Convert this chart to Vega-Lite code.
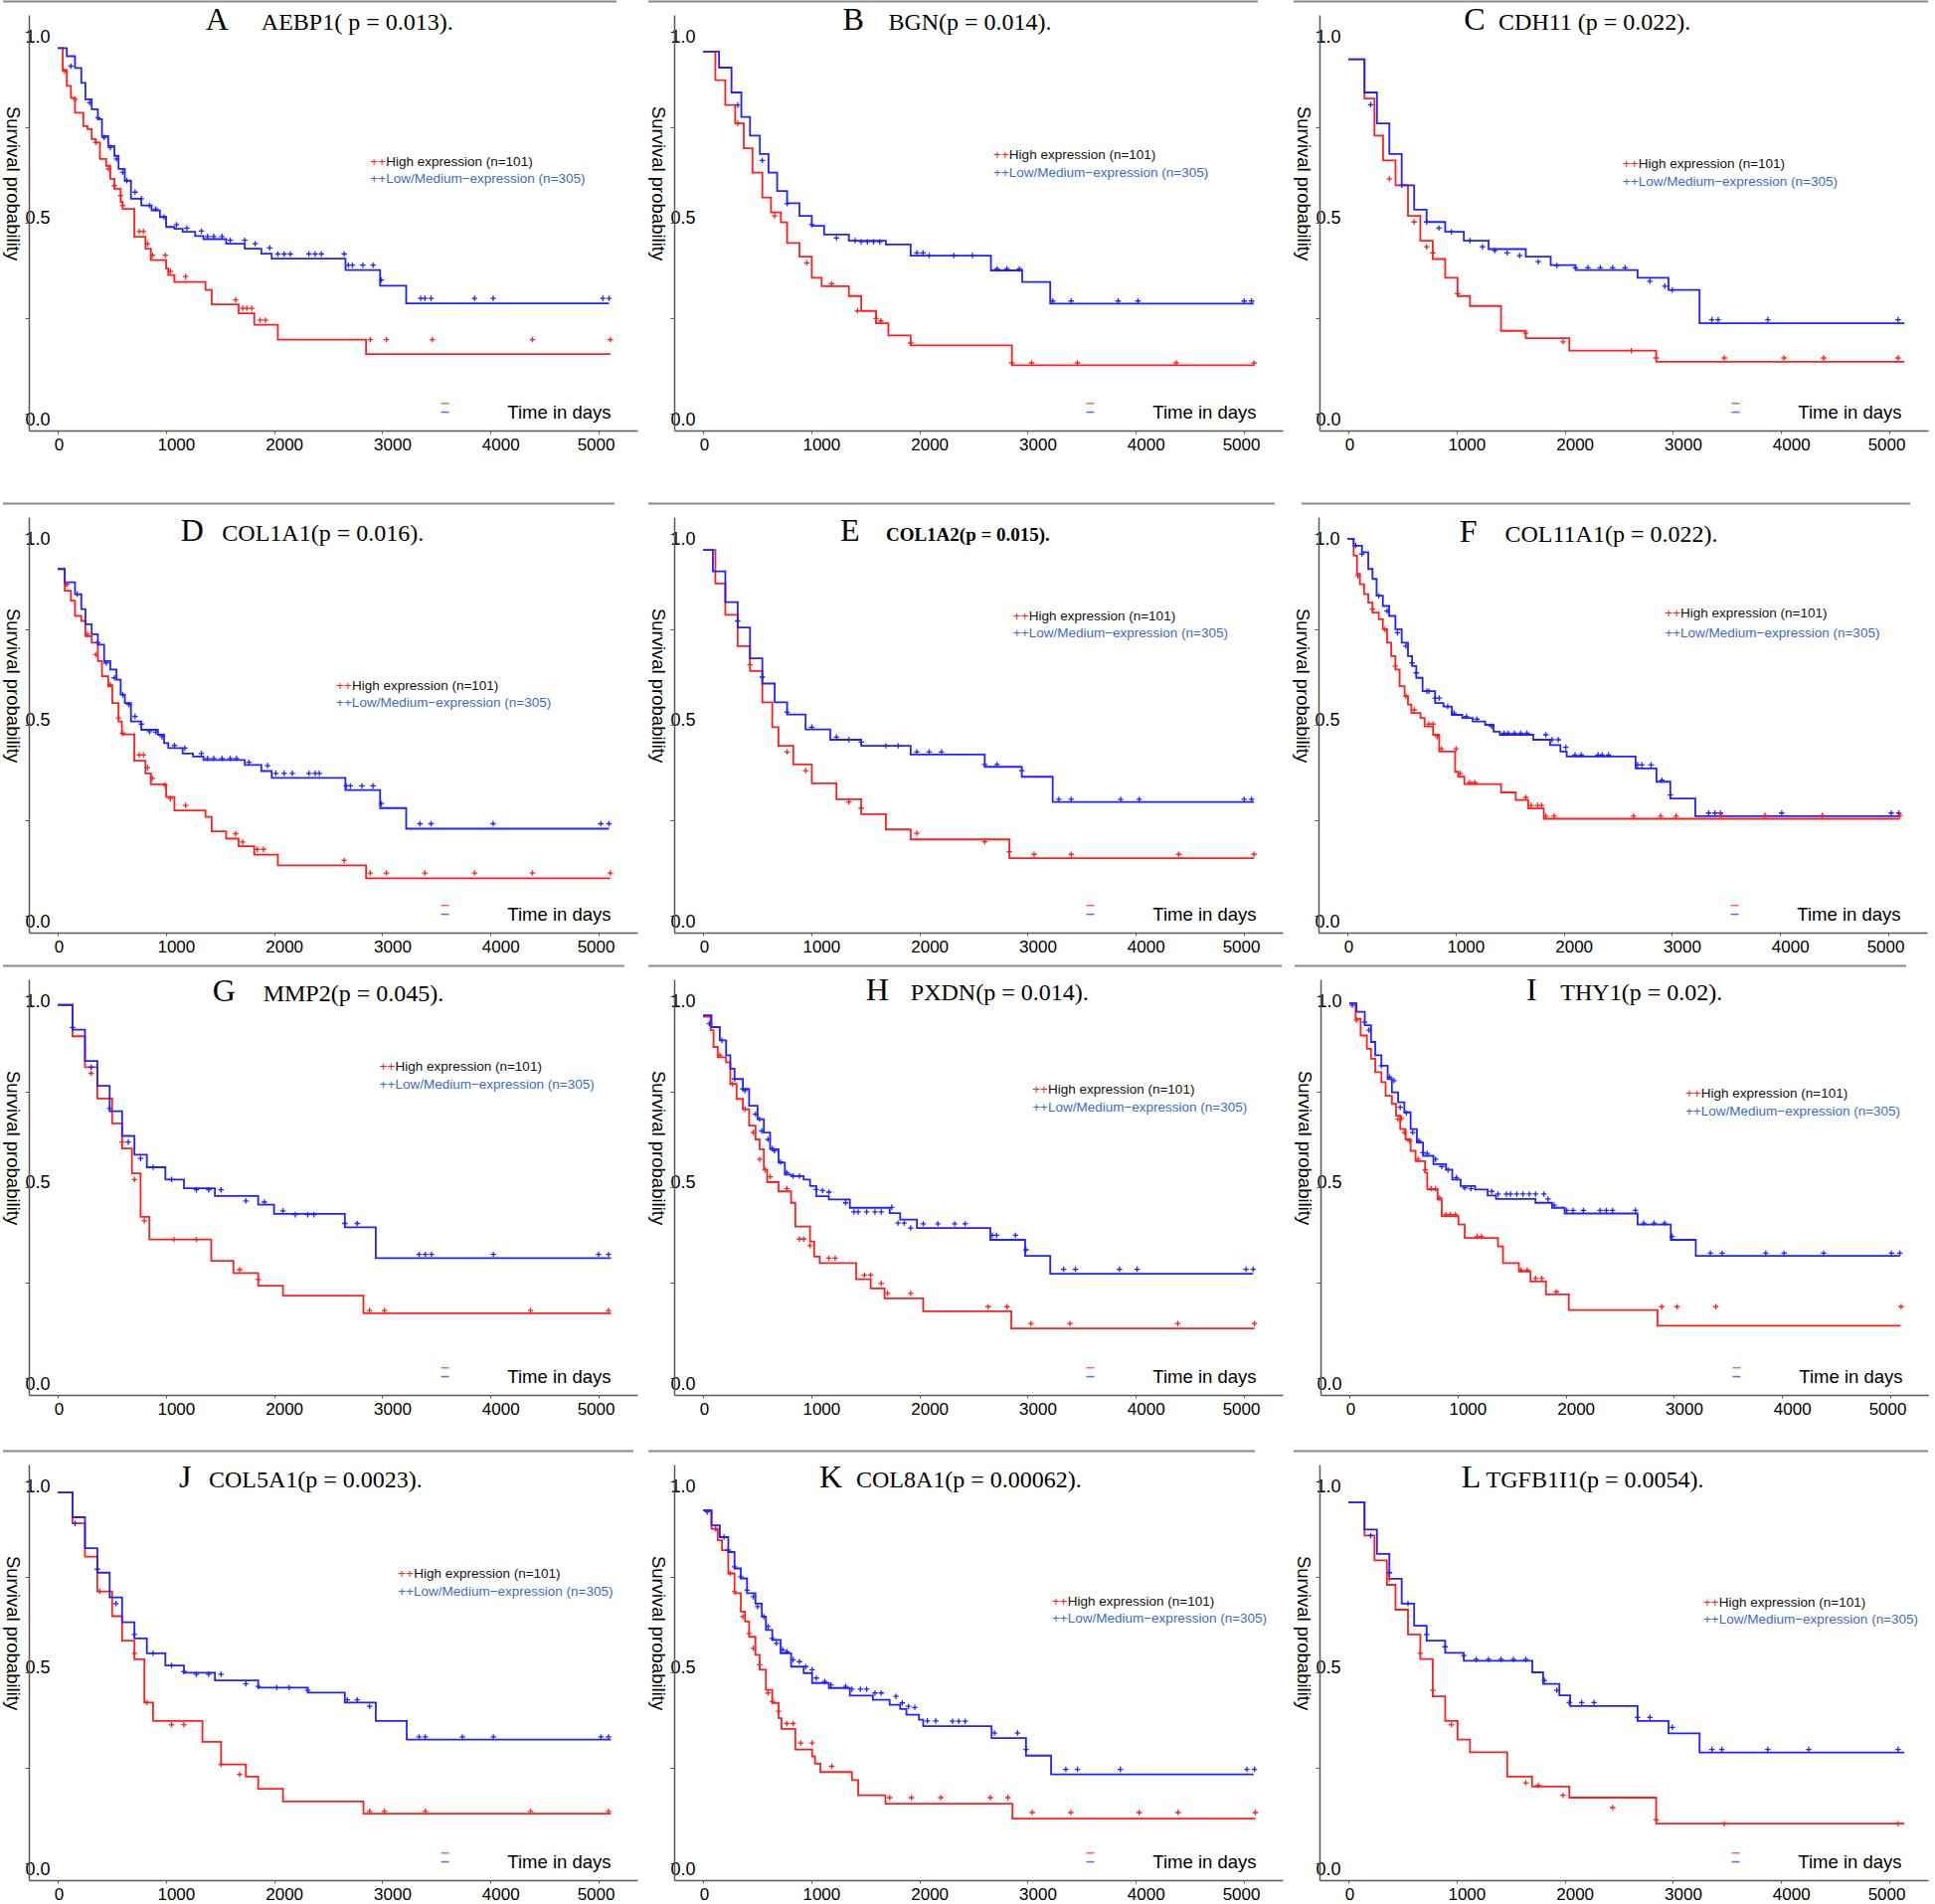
{
"$schema":"https://vega.github.io/schema/vega-lite/v6.json",
"background":"white",
"padding":{"left":1,"top":0,"right":0,"bottom":0},
"datasets":{
"c":[
{"p":"A","g":"H","t":0,"s":0.957},{"p":"A","g":"H","t":46,"s":0.9},{"p":"A","g":"H","t":84,"s":0.858},{"p":"A","g":"H","t":122,"s":0.827},{"p":"A","g":"H","t":160,"s":0.788},{"p":"A","g":"H","t":237,"s":0.753},{"p":"A","g":"H","t":275,"s":0.745},{"p":"A","g":"H","t":314,"s":0.719},{"p":"A","g":"H","t":352,"s":0.71},{"p":"A","g":"H","t":390,"s":0.667},{"p":"A","g":"H","t":448,"s":0.649},{"p":"A","g":"H","t":486,"s":0.615},{"p":"A","g":"H","t":524,"s":0.589},{"p":"A","g":"H","t":582,"s":0.554},{"p":"A","g":"H","t":601,"s":0.536},{"p":"A","g":"H","t":708,"s":0.463},{"p":"A","g":"H","t":811,"s":0.432},{"p":"A","g":"H","t":861,"s":0.402},{"p":"A","g":"H","t":1002,"s":0.38},{"p":"A","g":"H","t":1022,"s":0.363},{"p":"A","g":"H","t":1079,"s":0.345},{"p":"A","g":"H","t":1366,"s":0.324},{"p":"A","g":"H","t":1423,"s":0.286},{"p":"A","g":"H","t":1672,"s":0.263},{"p":"A","g":"H","t":1817,"s":0.233},{"p":"A","g":"H","t":2035,"s":0.194},{"p":"A","g":"H","t":2850,"s":0.156},{"p":"A","g":"H","t":5108,"s":0.156},
{"p":"A","g":"L","t":0,"s":0.957},{"p":"A","g":"L","t":84,"s":0.936},{"p":"A","g":"L","t":160,"s":0.905},{"p":"A","g":"L","t":218,"s":0.866},{"p":"A","g":"L","t":256,"s":0.823},{"p":"A","g":"L","t":314,"s":0.797},{"p":"A","g":"L","t":371,"s":0.771},{"p":"A","g":"L","t":409,"s":0.727},{"p":"A","g":"L","t":467,"s":0.701},{"p":"A","g":"L","t":524,"s":0.675},{"p":"A","g":"L","t":562,"s":0.641},{"p":"A","g":"L","t":620,"s":0.61},{"p":"A","g":"L","t":677,"s":0.563},{"p":"A","g":"L","t":773,"s":0.545},{"p":"A","g":"L","t":868,"s":0.532},{"p":"A","g":"L","t":945,"s":0.515},{"p":"A","g":"L","t":1002,"s":0.489},{"p":"A","g":"L","t":1079,"s":0.484},{"p":"A","g":"L","t":1155,"s":0.476},{"p":"A","g":"L","t":1270,"s":0.465},{"p":"A","g":"L","t":1347,"s":0.457},{"p":"A","g":"L","t":1557,"s":0.445},{"p":"A","g":"L","t":1729,"s":0.432},{"p":"A","g":"L","t":1882,"s":0.419},{"p":"A","g":"L","t":1978,"s":0.406},{"p":"A","g":"L","t":2660,"s":0.376},{"p":"A","g":"L","t":2980,"s":0.335},{"p":"A","g":"L","t":3221,"s":0.289},{"p":"A","g":"L","t":5096,"s":0.289},
{"p":"B","g":"H","t":0,"s":0.948},{"p":"B","g":"H","t":114,"s":0.873},{"p":"B","g":"H","t":206,"s":0.808},{"p":"B","g":"H","t":297,"s":0.76},{"p":"B","g":"H","t":377,"s":0.695},{"p":"B","g":"H","t":457,"s":0.631},{"p":"B","g":"H","t":548,"s":0.566},{"p":"B","g":"H","t":628,"s":0.527},{"p":"B","g":"H","t":719,"s":0.501},{"p":"B","g":"H","t":777,"s":0.447},{"p":"B","g":"H","t":891,"s":0.411},{"p":"B","g":"H","t":1005,"s":0.356},{"p":"B","g":"H","t":1096,"s":0.334},{"p":"B","g":"H","t":1348,"s":0.308},{"p":"B","g":"H","t":1462,"s":0.269},{"p":"B","g":"H","t":1599,"s":0.237},{"p":"B","g":"H","t":1713,"s":0.205},{"p":"B","g":"H","t":1919,"s":0.179},{"p":"B","g":"H","t":2855,"s":0.127},{"p":"B","g":"H","t":5093,"s":0.127},
{"p":"B","g":"L","t":0,"s":0.948},{"p":"B","g":"L","t":148,"s":0.906},{"p":"B","g":"L","t":263,"s":0.841},{"p":"B","g":"L","t":354,"s":0.777},{"p":"B","g":"L","t":434,"s":0.728},{"p":"B","g":"L","t":525,"s":0.68},{"p":"B","g":"L","t":605,"s":0.631},{"p":"B","g":"L","t":685,"s":0.583},{"p":"B","g":"L","t":777,"s":0.551},{"p":"B","g":"L","t":891,"s":0.518},{"p":"B","g":"L","t":1005,"s":0.492},{"p":"B","g":"L","t":1119,"s":0.469},{"p":"B","g":"L","t":1348,"s":0.453},{"p":"B","g":"L","t":1690,"s":0.443},{"p":"B","g":"L","t":1919,"s":0.414},{"p":"B","g":"L","t":2661,"s":0.375},{"p":"B","g":"L","t":2950,"s":0.345},{"p":"B","g":"L","t":3209,"s":0.288},{"p":"B","g":"L","t":5093,"s":0.288},
{"p":"C","g":"H","t":0,"s":0.928},{"p":"C","g":"H","t":149,"s":0.825},{"p":"C","g":"H","t":241,"s":0.728},{"p":"C","g":"H","t":321,"s":0.663},{"p":"C","g":"H","t":436,"s":0.598},{"p":"C","g":"H","t":551,"s":0.518},{"p":"C","g":"H","t":665,"s":0.453},{"p":"C","g":"H","t":780,"s":0.405},{"p":"C","g":"H","t":895,"s":0.356},{"p":"C","g":"H","t":1009,"s":0.308},{"p":"C","g":"H","t":1124,"s":0.282},{"p":"C","g":"H","t":1411,"s":0.217},{"p":"C","g":"H","t":1640,"s":0.198},{"p":"C","g":"H","t":2042,"s":0.165},{"p":"C","g":"H","t":2845,"s":0.136},{"p":"C","g":"H","t":5139,"s":0.136},
{"p":"C","g":"L","t":0,"s":0.928},{"p":"C","g":"L","t":149,"s":0.841},{"p":"C","g":"L","t":264,"s":0.76},{"p":"C","g":"L","t":379,"s":0.68},{"p":"C","g":"L","t":493,"s":0.598},{"p":"C","g":"L","t":608,"s":0.534},{"p":"C","g":"L","t":723,"s":0.502},{"p":"C","g":"L","t":895,"s":0.476},{"p":"C","g":"L","t":1067,"s":0.453},{"p":"C","g":"L","t":1296,"s":0.431},{"p":"C","g":"L","t":1640,"s":0.411},{"p":"C","g":"L","t":1870,"s":0.389},{"p":"C","g":"L","t":2099,"s":0.376},{"p":"C","g":"L","t":2673,"s":0.356},{"p":"C","g":"L","t":2959,"s":0.324},{"p":"C","g":"L","t":3246,"s":0.237},{"p":"C","g":"L","t":5139,"s":0.237},
{"p":"D","g":"H","t":0,"s":0.908},{"p":"D","g":"H","t":65,"s":0.851},{"p":"D","g":"H","t":122,"s":0.825},{"p":"D","g":"H","t":160,"s":0.785},{"p":"D","g":"H","t":218,"s":0.772},{"p":"D","g":"H","t":256,"s":0.732},{"p":"D","g":"H","t":314,"s":0.715},{"p":"D","g":"H","t":371,"s":0.667},{"p":"D","g":"H","t":409,"s":0.627},{"p":"D","g":"H","t":467,"s":0.601},{"p":"D","g":"H","t":505,"s":0.557},{"p":"D","g":"H","t":562,"s":0.509},{"p":"D","g":"H","t":593,"s":0.475},{"p":"D","g":"H","t":708,"s":0.406},{"p":"D","g":"H","t":811,"s":0.373},{"p":"D","g":"H","t":861,"s":0.344},{"p":"D","g":"H","t":1002,"s":0.311},{"p":"D","g":"H","t":1079,"s":0.276},{"p":"D","g":"H","t":1366,"s":0.259},{"p":"D","g":"H","t":1423,"s":0.221},{"p":"D","g":"H","t":1557,"s":0.202},{"p":"D","g":"H","t":1672,"s":0.182},{"p":"D","g":"H","t":1817,"s":0.16},{"p":"D","g":"H","t":2035,"s":0.132},{"p":"D","g":"H","t":2850,"s":0.098},{"p":"D","g":"H","t":5108,"s":0.098},
{"p":"D","g":"L","t":0,"s":0.908},{"p":"D","g":"L","t":65,"s":0.873},{"p":"D","g":"L","t":160,"s":0.842},{"p":"D","g":"L","t":218,"s":0.803},{"p":"D","g":"L","t":256,"s":0.763},{"p":"D","g":"L","t":314,"s":0.737},{"p":"D","g":"L","t":371,"s":0.71},{"p":"D","g":"L","t":429,"s":0.667},{"p":"D","g":"L","t":486,"s":0.645},{"p":"D","g":"L","t":543,"s":0.618},{"p":"D","g":"L","t":582,"s":0.579},{"p":"D","g":"L","t":620,"s":0.557},{"p":"D","g":"L","t":677,"s":0.509},{"p":"D","g":"L","t":773,"s":0.487},{"p":"D","g":"L","t":926,"s":0.474},{"p":"D","g":"L","t":983,"s":0.452},{"p":"D","g":"L","t":1022,"s":0.439},{"p":"D","g":"L","t":1155,"s":0.425},{"p":"D","g":"L","t":1251,"s":0.417},{"p":"D","g":"L","t":1347,"s":0.408},{"p":"D","g":"L","t":1729,"s":0.395},{"p":"D","g":"L","t":1882,"s":0.379},{"p":"D","g":"L","t":1978,"s":0.361},{"p":"D","g":"L","t":2659,"s":0.329},{"p":"D","g":"L","t":2980,"s":0.282},{"p":"D","g":"L","t":3221,"s":0.228},{"p":"D","g":"L","t":5096,"s":0.228},
{"p":"E","g":"H","t":0,"s":0.958},{"p":"E","g":"H","t":114,"s":0.87},{"p":"E","g":"H","t":206,"s":0.788},{"p":"E","g":"H","t":320,"s":0.706},{"p":"E","g":"H","t":434,"s":0.641},{"p":"E","g":"H","t":548,"s":0.559},{"p":"E","g":"H","t":640,"s":0.494},{"p":"E","g":"H","t":697,"s":0.445},{"p":"E","g":"H","t":834,"s":0.396},{"p":"E","g":"H","t":1005,"s":0.347},{"p":"E","g":"H","t":1233,"s":0.305},{"p":"E","g":"H","t":1462,"s":0.266},{"p":"E","g":"H","t":1690,"s":0.226},{"p":"E","g":"H","t":1919,"s":0.2},{"p":"E","g":"H","t":2832,"s":0.151},{"p":"E","g":"H","t":5093,"s":0.151},
{"p":"E","g":"L","t":0,"s":0.958},{"p":"E","g":"L","t":91,"s":0.902},{"p":"E","g":"L","t":206,"s":0.821},{"p":"E","g":"L","t":320,"s":0.755},{"p":"E","g":"L","t":434,"s":0.674},{"p":"E","g":"L","t":548,"s":0.608},{"p":"E","g":"L","t":662,"s":0.559},{"p":"E","g":"L","t":777,"s":0.527},{"p":"E","g":"L","t":948,"s":0.488},{"p":"E","g":"L","t":1176,"s":0.461},{"p":"E","g":"L","t":1462,"s":0.445},{"p":"E","g":"L","t":1919,"s":0.422},{"p":"E","g":"L","t":2604,"s":0.39},{"p":"E","g":"L","t":2946,"s":0.364},{"p":"E","g":"L","t":3232,"s":0.298},{"p":"E","g":"L","t":5093,"s":0.298},
{"p":"F","g":"H","t":0,"s":0.987},{"p":"F","g":"H","t":58,"s":0.943},{"p":"F","g":"H","t":89,"s":0.895},{"p":"F","g":"H","t":116,"s":0.868},{"p":"F","g":"H","t":154,"s":0.842},{"p":"F","g":"H","t":193,"s":0.82},{"p":"F","g":"H","t":232,"s":0.794},{"p":"F","g":"H","t":290,"s":0.776},{"p":"F","g":"H","t":328,"s":0.75},{"p":"F","g":"H","t":367,"s":0.715},{"p":"F","g":"H","t":405,"s":0.68},{"p":"F","g":"H","t":444,"s":0.645},{"p":"F","g":"H","t":483,"s":0.601},{"p":"F","g":"H","t":529,"s":0.575},{"p":"F","g":"H","t":560,"s":0.553},{"p":"F","g":"H","t":591,"s":0.531},{"p":"F","g":"H","t":676,"s":0.518},{"p":"F","g":"H","t":714,"s":0.496},{"p":"F","g":"H","t":792,"s":0.474},{"p":"F","g":"H","t":849,"s":0.43},{"p":"F","g":"H","t":996,"s":0.377},{"p":"F","g":"H","t":1023,"s":0.364},{"p":"F","g":"H","t":1081,"s":0.345},{"p":"F","g":"H","t":1421,"s":0.323},{"p":"F","g":"H","t":1556,"s":0.303},{"p":"F","g":"H","t":1672,"s":0.281},{"p":"F","g":"H","t":1815,"s":0.254},{"p":"F","g":"H","t":5108,"s":0.254},
{"p":"F","g":"L","t":0,"s":0.987},{"p":"F","g":"L","t":58,"s":0.969},{"p":"F","g":"L","t":135,"s":0.952},{"p":"F","g":"L","t":193,"s":0.908},{"p":"F","g":"L","t":232,"s":0.882},{"p":"F","g":"L","t":270,"s":0.838},{"p":"F","g":"L","t":328,"s":0.811},{"p":"F","g":"L","t":386,"s":0.785},{"p":"F","g":"L","t":444,"s":0.75},{"p":"F","g":"L","t":502,"s":0.715},{"p":"F","g":"L","t":560,"s":0.68},{"p":"F","g":"L","t":598,"s":0.654},{"p":"F","g":"L","t":637,"s":0.623},{"p":"F","g":"L","t":695,"s":0.588},{"p":"F","g":"L","t":811,"s":0.557},{"p":"F","g":"L","t":888,"s":0.548},{"p":"F","g":"L","t":965,"s":0.526},{"p":"F","g":"L","t":1062,"s":0.518},{"p":"F","g":"L","t":1158,"s":0.509},{"p":"F","g":"L","t":1274,"s":0.5},{"p":"F","g":"L","t":1351,"s":0.482},{"p":"F","g":"L","t":1409,"s":0.474},{"p":"F","g":"L","t":1718,"s":0.461},{"p":"F","g":"L","t":1873,"s":0.447},{"p":"F","g":"L","t":1969,"s":0.43},{"p":"F","g":"L","t":2027,"s":0.417},{"p":"F","g":"L","t":2664,"s":0.386},{"p":"F","g":"L","t":2857,"s":0.351},{"p":"F","g":"L","t":2985,"s":0.307},{"p":"F","g":"L","t":3216,"s":0.261},{"p":"F","g":"L","t":5108,"s":0.261},
{"p":"G","g":"H","t":0,"s":0.977},{"p":"G","g":"H","t":137,"s":0.895},{"p":"G","g":"H","t":252,"s":0.814},{"p":"G","g":"H","t":366,"s":0.732},{"p":"G","g":"H","t":503,"s":0.667},{"p":"G","g":"H","t":595,"s":0.601},{"p":"G","g":"H","t":686,"s":0.536},{"p":"G","g":"H","t":766,"s":0.422},{"p":"G","g":"H","t":847,"s":0.363},{"p":"G","g":"H","t":1419,"s":0.307},{"p":"G","g":"H","t":1624,"s":0.275},{"p":"G","g":"H","t":1853,"s":0.242},{"p":"G","g":"H","t":2082,"s":0.216},{"p":"G","g":"H","t":2826,"s":0.17},{"p":"G","g":"H","t":5114,"s":0.17},
{"p":"G","g":"L","t":0,"s":0.977},{"p":"G","g":"L","t":137,"s":0.912},{"p":"G","g":"L","t":252,"s":0.83},{"p":"G","g":"L","t":366,"s":0.765},{"p":"G","g":"L","t":480,"s":0.699},{"p":"G","g":"L","t":595,"s":0.634},{"p":"G","g":"L","t":709,"s":0.585},{"p":"G","g":"L","t":824,"s":0.552},{"p":"G","g":"L","t":995,"s":0.52},{"p":"G","g":"L","t":1167,"s":0.497},{"p":"G","g":"L","t":1453,"s":0.477},{"p":"G","g":"L","t":1853,"s":0.454},{"p":"G","g":"L","t":2000,"s":0.43},{"p":"G","g":"L","t":2654,"s":0.395},{"p":"G","g":"L","t":2940,"s":0.314},{"p":"G","g":"L","t":5114,"s":0.314},
{"p":"H","g":"H","t":0,"s":0.946},{"p":"H","g":"H","t":70,"s":0.911},{"p":"H","g":"H","t":97,"s":0.867},{"p":"H","g":"H","t":136,"s":0.84},{"p":"H","g":"H","t":213,"s":0.827},{"p":"H","g":"H","t":252,"s":0.77},{"p":"H","g":"H","t":310,"s":0.731},{"p":"H","g":"H","t":368,"s":0.704},{"p":"H","g":"H","t":426,"s":0.661},{"p":"H","g":"H","t":485,"s":0.625},{"p":"H","g":"H","t":523,"s":0.599},{"p":"H","g":"H","t":562,"s":0.546},{"p":"H","g":"H","t":593,"s":0.513},{"p":"H","g":"H","t":698,"s":0.489},{"p":"H","g":"H","t":814,"s":0.459},{"p":"H","g":"H","t":853,"s":0.397},{"p":"H","g":"H","t":989,"s":0.358},{"p":"H","g":"H","t":1027,"s":0.318},{"p":"H","g":"H","t":1078,"s":0.301},{"p":"H","g":"H","t":1415,"s":0.259},{"p":"H","g":"H","t":1550,"s":0.235},{"p":"H","g":"H","t":1678,"s":0.209},{"p":"H","g":"H","t":2035,"s":0.175},{"p":"H","g":"H","t":2849,"s":0.13},{"p":"H","g":"H","t":5097,"s":0.13},
{"p":"H","g":"L","t":0,"s":0.95},{"p":"H","g":"L","t":78,"s":0.919},{"p":"H","g":"L","t":155,"s":0.884},{"p":"H","g":"L","t":213,"s":0.845},{"p":"H","g":"L","t":252,"s":0.81},{"p":"H","g":"L","t":291,"s":0.783},{"p":"H","g":"L","t":368,"s":0.757},{"p":"H","g":"L","t":426,"s":0.713},{"p":"H","g":"L","t":504,"s":0.678},{"p":"H","g":"L","t":562,"s":0.643},{"p":"H","g":"L","t":620,"s":0.599},{"p":"H","g":"L","t":698,"s":0.564},{"p":"H","g":"L","t":756,"s":0.533},{"p":"H","g":"L","t":814,"s":0.529},{"p":"H","g":"L","t":930,"s":0.52},{"p":"H","g":"L","t":989,"s":0.503},{"p":"H","g":"L","t":1047,"s":0.476},{"p":"H","g":"L","t":1163,"s":0.468},{"p":"H","g":"L","t":1357,"s":0.446},{"p":"H","g":"L","t":1725,"s":0.432},{"p":"H","g":"L","t":1822,"s":0.415},{"p":"H","g":"L","t":1977,"s":0.393},{"p":"H","g":"L","t":2655,"s":0.362},{"p":"H","g":"L","t":2977,"s":0.32},{"p":"H","g":"L","t":3209,"s":0.273},{"p":"H","g":"L","t":5085,"s":0.273},
{"p":"I","g":"H","t":0,"s":0.981},{"p":"I","g":"H","t":58,"s":0.941},{"p":"I","g":"H","t":104,"s":0.897},{"p":"I","g":"H","t":162,"s":0.862},{"p":"I","g":"H","t":200,"s":0.836},{"p":"I","g":"H","t":239,"s":0.801},{"p":"I","g":"H","t":296,"s":0.775},{"p":"I","g":"H","t":335,"s":0.739},{"p":"I","g":"H","t":393,"s":0.718},{"p":"I","g":"H","t":431,"s":0.687},{"p":"I","g":"H","t":470,"s":0.652},{"p":"I","g":"H","t":520,"s":0.625},{"p":"I","g":"H","t":566,"s":0.595},{"p":"I","g":"H","t":612,"s":0.568},{"p":"I","g":"H","t":700,"s":0.538},{"p":"I","g":"H","t":720,"s":0.494},{"p":"I","g":"H","t":816,"s":0.468},{"p":"I","g":"H","t":854,"s":0.424},{"p":"I","g":"H","t":1008,"s":0.402},{"p":"I","g":"H","t":1066,"s":0.367},{"p":"I","g":"H","t":1374,"s":0.345},{"p":"I","g":"H","t":1420,"s":0.301},{"p":"I","g":"H","t":1567,"s":0.279},{"p":"I","g":"H","t":1674,"s":0.253},{"p":"I","g":"H","t":1817,"s":0.219},{"p":"I","g":"H","t":2028,"s":0.178},{"p":"I","g":"H","t":2848,"s":0.137},{"p":"I","g":"H","t":5096,"s":0.137},
{"p":"I","g":"L","t":0,"s":0.981},{"p":"I","g":"L","t":65,"s":0.959},{"p":"I","g":"L","t":142,"s":0.924},{"p":"I","g":"L","t":200,"s":0.88},{"p":"I","g":"L","t":239,"s":0.845},{"p":"I","g":"L","t":296,"s":0.818},{"p":"I","g":"L","t":354,"s":0.783},{"p":"I","g":"L","t":393,"s":0.748},{"p":"I","g":"L","t":450,"s":0.722},{"p":"I","g":"L","t":508,"s":0.696},{"p":"I","g":"L","t":566,"s":0.652},{"p":"I","g":"L","t":624,"s":0.617},{"p":"I","g":"L","t":681,"s":0.582},{"p":"I","g":"L","t":777,"s":0.56},{"p":"I","g":"L","t":893,"s":0.546},{"p":"I","g":"L","t":951,"s":0.52},{"p":"I","g":"L","t":1028,"s":0.503},{"p":"I","g":"L","t":1162,"s":0.494},{"p":"I","g":"L","t":1278,"s":0.478},{"p":"I","g":"L","t":1355,"s":0.469},{"p":"I","g":"L","t":1720,"s":0.459},{"p":"I","g":"L","t":1874,"s":0.446},{"p":"I","g":"L","t":1990,"s":0.431},{"p":"I","g":"L","t":2664,"s":0.402},{"p":"I","g":"L","t":2971,"s":0.362},{"p":"I","g":"L","t":3202,"s":0.32},{"p":"I","g":"L","t":5088,"s":0.32},
{"p":"J","g":"H","t":0,"s":0.971},{"p":"J","g":"H","t":137,"s":0.89},{"p":"J","g":"H","t":252,"s":0.803},{"p":"J","g":"H","t":366,"s":0.712},{"p":"J","g":"H","t":503,"s":0.647},{"p":"J","g":"H","t":595,"s":0.583},{"p":"J","g":"H","t":709,"s":0.534},{"p":"J","g":"H","t":801,"s":0.421},{"p":"J","g":"H","t":881,"s":0.373},{"p":"J","g":"H","t":1338,"s":0.318},{"p":"J","g":"H","t":1510,"s":0.259},{"p":"J","g":"H","t":1739,"s":0.227},{"p":"J","g":"H","t":1853,"s":0.195},{"p":"J","g":"H","t":2082,"s":0.162},{"p":"J","g":"H","t":2826,"s":0.13},{"p":"J","g":"H","t":5114,"s":0.13},
{"p":"J","g":"L","t":0,"s":0.971},{"p":"J","g":"L","t":137,"s":0.906},{"p":"J","g":"L","t":252,"s":0.825},{"p":"J","g":"L","t":366,"s":0.761},{"p":"J","g":"L","t":480,"s":0.696},{"p":"J","g":"L","t":595,"s":0.631},{"p":"J","g":"L","t":709,"s":0.589},{"p":"J","g":"L","t":824,"s":0.55},{"p":"J","g":"L","t":995,"s":0.518},{"p":"J","g":"L","t":1167,"s":0.499},{"p":"J","g":"L","t":1453,"s":0.479},{"p":"J","g":"L","t":1853,"s":0.46},{"p":"J","g":"L","t":2311,"s":0.447},{"p":"J","g":"L","t":2654,"s":0.421},{"p":"J","g":"L","t":2940,"s":0.373},{"p":"J","g":"L","t":3226,"s":0.324},{"p":"J","g":"L","t":5114,"s":0.324},
{"p":"K","g":"H","t":0,"s":0.924},{"p":"K","g":"H","t":78,"s":0.876},{"p":"K","g":"H","t":136,"s":0.846},{"p":"K","g":"H","t":175,"s":0.82},{"p":"K","g":"H","t":233,"s":0.759},{"p":"K","g":"H","t":291,"s":0.707},{"p":"K","g":"H","t":349,"s":0.659},{"p":"K","g":"H","t":388,"s":0.633},{"p":"K","g":"H","t":426,"s":0.593},{"p":"K","g":"H","t":484,"s":0.546},{"p":"K","g":"H","t":523,"s":0.507},{"p":"K","g":"H","t":581,"s":0.454},{"p":"K","g":"H","t":640,"s":0.42},{"p":"K","g":"H","t":698,"s":0.38},{"p":"K","g":"H","t":725,"s":0.352},{"p":"K","g":"H","t":853,"s":0.298},{"p":"K","g":"H","t":1008,"s":0.28},{"p":"K","g":"H","t":1035,"s":0.261},{"p":"K","g":"H","t":1085,"s":0.239},{"p":"K","g":"H","t":1376,"s":0.218},{"p":"K","g":"H","t":1434,"s":0.178},{"p":"K","g":"H","t":1686,"s":0.156},{"p":"K","g":"H","t":2860,"s":0.117},{"p":"K","g":"H","t":5105,"s":0.117},
{"p":"K","g":"L","t":0,"s":0.924},{"p":"K","g":"L","t":78,"s":0.885},{"p":"K","g":"L","t":155,"s":0.854},{"p":"K","g":"L","t":233,"s":0.815},{"p":"K","g":"L","t":291,"s":0.772},{"p":"K","g":"L","t":349,"s":0.746},{"p":"K","g":"L","t":407,"s":0.707},{"p":"K","g":"L","t":484,"s":0.68},{"p":"K","g":"L","t":543,"s":0.646},{"p":"K","g":"L","t":581,"s":0.611},{"p":"K","g":"L","t":640,"s":0.585},{"p":"K","g":"L","t":717,"s":0.55},{"p":"K","g":"L","t":814,"s":0.515},{"p":"K","g":"L","t":930,"s":0.498},{"p":"K","g":"L","t":1008,"s":0.472},{"p":"K","g":"L","t":1163,"s":0.459},{"p":"K","g":"L","t":1357,"s":0.439},{"p":"K","g":"L","t":1570,"s":0.428},{"p":"K","g":"L","t":1725,"s":0.415},{"p":"K","g":"L","t":1822,"s":0.404},{"p":"K","g":"L","t":1880,"s":0.389},{"p":"K","g":"L","t":1996,"s":0.376},{"p":"K","g":"L","t":2035,"s":0.359},{"p":"K","g":"L","t":2667,"s":0.328},{"p":"K","g":"L","t":2985,"s":0.282},{"p":"K","g":"L","t":3217,"s":0.233},{"p":"K","g":"L","t":5089,"s":0.233},
{"p":"L","g":"H","t":0,"s":0.945},{"p":"L","g":"H","t":149,"s":0.858},{"p":"L","g":"H","t":241,"s":0.793},{"p":"L","g":"H","t":356,"s":0.729},{"p":"L","g":"H","t":436,"s":0.664},{"p":"L","g":"H","t":551,"s":0.599},{"p":"L","g":"H","t":665,"s":0.535},{"p":"L","g":"H","t":780,"s":0.437},{"p":"L","g":"H","t":895,"s":0.373},{"p":"L","g":"H","t":1009,"s":0.324},{"p":"L","g":"H","t":1124,"s":0.291},{"p":"L","g":"H","t":1468,"s":0.227},{"p":"L","g":"H","t":1698,"s":0.201},{"p":"L","g":"H","t":2042,"s":0.172},{"p":"L","g":"H","t":2845,"s":0.104},{"p":"L","g":"H","t":5139,"s":0.104},
{"p":"L","g":"L","t":0,"s":0.945},{"p":"L","g":"L","t":149,"s":0.874},{"p":"L","g":"L","t":264,"s":0.81},{"p":"L","g":"L","t":379,"s":0.745},{"p":"L","g":"L","t":493,"s":0.68},{"p":"L","g":"L","t":608,"s":0.622},{"p":"L","g":"L","t":723,"s":0.583},{"p":"L","g":"L","t":895,"s":0.551},{"p":"L","g":"L","t":1067,"s":0.53},{"p":"L","g":"L","t":1700,"s":0.5},{"p":"L","g":"L","t":1800,"s":0.47},{"p":"L","g":"L","t":1950,"s":0.44},{"p":"L","g":"L","t":2050,"s":0.412},{"p":"L","g":"L","t":2673,"s":0.373},{"p":"L","g":"L","t":2959,"s":0.34},{"p":"L","g":"L","t":3246,"s":0.29},{"p":"L","g":"L","t":5139,"s":0.29}
],
"k":[
{"p":"A","g":"L","t":122,"s":0.91},{"p":"A","g":"L","t":295,"s":0.814},{"p":"A","g":"L","t":371,"s":0.775},{"p":"A","g":"L","t":429,"s":0.723},{"p":"A","g":"L","t":486,"s":0.697},{"p":"A","g":"L","t":543,"s":0.667},{"p":"A","g":"L","t":601,"s":0.632},{"p":"A","g":"L","t":639,"s":0.61},{"p":"A","g":"L","t":715,"s":0.58},{"p":"A","g":"L","t":773,"s":0.563},{"p":"A","g":"L","t":849,"s":0.545},{"p":"A","g":"L","t":907,"s":0.536},{"p":"A","g":"L","t":983,"s":0.515},{"p":"A","g":"L","t":1098,"s":0.495},{"p":"A","g":"L","t":1194,"s":0.486},{"p":"A","g":"L","t":1328,"s":0.478},{"p":"A","g":"L","t":1385,"s":0.464},{"p":"A","g":"L","t":1442,"s":0.464},{"p":"A","g":"L","t":1519,"s":0.464},{"p":"A","g":"L","t":1595,"s":0.454},{"p":"A","g":"L","t":1729,"s":0.454},{"p":"A","g":"L","t":1825,"s":0.445},{"p":"A","g":"L","t":1959,"s":0.434},{"p":"A","g":"L","t":2035,"s":0.418},{"p":"A","g":"L","t":2093,"s":0.418},{"p":"A","g":"L","t":2150,"s":0.418},{"p":"A","g":"L","t":2322,"s":0.418},{"p":"A","g":"L","t":2380,"s":0.418},{"p":"A","g":"L","t":2437,"s":0.418},{"p":"A","g":"L","t":2648,"s":0.418},{"p":"A","g":"L","t":2686,"s":0.389},{"p":"A","g":"L","t":2724,"s":0.389},{"p":"A","g":"L","t":2820,"s":0.389},{"p":"A","g":"L","t":2915,"s":0.389},{"p":"A","g":"L","t":2992,"s":0.35},{"p":"A","g":"L","t":3355,"s":0.302},{"p":"A","g":"L","t":3394,"s":0.302},{"p":"A","g":"L","t":3451,"s":0.302},{"p":"A","g":"L","t":3853,"s":0.302},{"p":"A","g":"L","t":4025,"s":0.302},{"p":"A","g":"L","t":5039,"s":0.302},{"p":"A","g":"L","t":5096,"s":0.302},
{"p":"A","g":"H","t":65,"s":0.897},{"p":"A","g":"H","t":161,"s":0.823},{"p":"A","g":"H","t":352,"s":0.71},{"p":"A","g":"H","t":467,"s":0.641},{"p":"A","g":"H","t":524,"s":0.597},{"p":"A","g":"H","t":582,"s":0.571},{"p":"A","g":"H","t":601,"s":0.545},{"p":"A","g":"H","t":754,"s":0.477},{"p":"A","g":"H","t":792,"s":0.477},{"p":"A","g":"H","t":830,"s":0.445},{"p":"A","g":"H","t":876,"s":0.415},{"p":"A","g":"H","t":995,"s":0.415},{"p":"A","g":"H","t":1041,"s":0.373},{"p":"A","g":"H","t":1182,"s":0.359},{"p":"A","g":"H","t":1645,"s":0.298},{"p":"A","g":"H","t":1710,"s":0.276},{"p":"A","g":"H","t":1748,"s":0.276},{"p":"A","g":"H","t":1794,"s":0.276},{"p":"A","g":"H","t":1871,"s":0.245},{"p":"A","g":"H","t":1921,"s":0.245},{"p":"A","g":"H","t":2889,"s":0.194},{"p":"A","g":"H","t":3038,"s":0.194},{"p":"A","g":"H","t":3463,"s":0.194},{"p":"A","g":"H","t":4388,"s":0.194},{"p":"A","g":"H","t":5108,"s":0.194},
{"p":"B","g":"L","t":320,"s":0.808},{"p":"B","g":"L","t":548,"s":0.663},{"p":"B","g":"L","t":777,"s":0.55},{"p":"B","g":"L","t":1005,"s":0.495},{"p":"B","g":"L","t":1233,"s":0.46},{"p":"B","g":"L","t":1405,"s":0.453},{"p":"B","g":"L","t":1462,"s":0.45},{"p":"B","g":"L","t":1519,"s":0.45},{"p":"B","g":"L","t":1576,"s":0.45},{"p":"B","g":"L","t":1633,"s":0.45},{"p":"B","g":"L","t":1976,"s":0.421},{"p":"B","g":"L","t":2033,"s":0.421},{"p":"B","g":"L","t":2090,"s":0.414},{"p":"B","g":"L","t":2318,"s":0.414},{"p":"B","g":"L","t":2490,"s":0.414},{"p":"B","g":"L","t":2718,"s":0.379},{"p":"B","g":"L","t":2809,"s":0.379},{"p":"B","g":"L","t":2924,"s":0.379},{"p":"B","g":"L","t":3232,"s":0.295},{"p":"B","g":"L","t":3403,"s":0.295},{"p":"B","g":"L","t":3837,"s":0.295},{"p":"B","g":"L","t":4020,"s":0.295},{"p":"B","g":"L","t":5002,"s":0.295},{"p":"B","g":"L","t":5070,"s":0.295},
{"p":"B","g":"H","t":320,"s":0.76},{"p":"B","g":"H","t":662,"s":0.518},{"p":"B","g":"H","t":959,"s":0.395},{"p":"B","g":"H","t":1188,"s":0.34},{"p":"B","g":"H","t":1428,"s":0.269},{"p":"B","g":"H","t":1599,"s":0.249},{"p":"B","g":"H","t":1644,"s":0.243},{"p":"B","g":"H","t":1919,"s":0.185},{"p":"B","g":"H","t":2855,"s":0.133},{"p":"B","g":"H","t":3038,"s":0.133},{"p":"B","g":"H","t":3460,"s":0.133},{"p":"B","g":"H","t":4374,"s":0.133},{"p":"B","g":"H","t":5093,"s":0.133},
{"p":"C","g":"L","t":206,"s":0.809},{"p":"C","g":"L","t":493,"s":0.598},{"p":"C","g":"L","t":723,"s":0.502},{"p":"C","g":"L","t":837,"s":0.486},{"p":"C","g":"L","t":952,"s":0.476},{"p":"C","g":"L","t":1124,"s":0.453},{"p":"C","g":"L","t":1239,"s":0.437},{"p":"C","g":"L","t":1353,"s":0.427},{"p":"C","g":"L","t":1468,"s":0.421},{"p":"C","g":"L","t":1583,"s":0.414},{"p":"C","g":"L","t":1755,"s":0.398},{"p":"C","g":"L","t":1927,"s":0.388},{"p":"C","g":"L","t":2099,"s":0.382},{"p":"C","g":"L","t":2214,"s":0.382},{"p":"C","g":"L","t":2328,"s":0.382},{"p":"C","g":"L","t":2443,"s":0.382},{"p":"C","g":"L","t":2558,"s":0.382},{"p":"C","g":"L","t":2787,"s":0.347},{"p":"C","g":"L","t":2925,"s":0.334},{"p":"C","g":"L","t":2994,"s":0.324},{"p":"C","g":"L","t":3361,"s":0.246},{"p":"C","g":"L","t":3418,"s":0.246},{"p":"C","g":"L","t":3877,"s":0.246},{"p":"C","g":"L","t":5081,"s":0.246},
{"p":"C","g":"H","t":379,"s":0.615},{"p":"C","g":"H","t":608,"s":0.502},{"p":"C","g":"H","t":723,"s":0.437},{"p":"C","g":"H","t":780,"s":0.421},{"p":"C","g":"H","t":1009,"s":0.314},{"p":"C","g":"H","t":1640,"s":0.211},{"p":"C","g":"H","t":1984,"s":0.188},{"p":"C","g":"H","t":2615,"s":0.165},{"p":"C","g":"H","t":2845,"s":0.146},{"p":"C","g":"H","t":3475,"s":0.146},{"p":"C","g":"H","t":4026,"s":0.146},{"p":"C","g":"H","t":4393,"s":0.146},{"p":"C","g":"H","t":5081,"s":0.146},
{"p":"D","g":"L","t":84,"s":0.868},{"p":"D","g":"L","t":180,"s":0.842},{"p":"D","g":"L","t":371,"s":0.715},{"p":"D","g":"L","t":448,"s":0.662},{"p":"D","g":"L","t":524,"s":0.623},{"p":"D","g":"L","t":601,"s":0.579},{"p":"D","g":"L","t":658,"s":0.553},{"p":"D","g":"L","t":715,"s":0.522},{"p":"D","g":"L","t":773,"s":0.502},{"p":"D","g":"L","t":849,"s":0.482},{"p":"D","g":"L","t":907,"s":0.481},{"p":"D","g":"L","t":964,"s":0.469},{"p":"D","g":"L","t":1079,"s":0.446},{"p":"D","g":"L","t":1175,"s":0.439},{"p":"D","g":"L","t":1328,"s":0.425},{"p":"D","g":"L","t":1385,"s":0.412},{"p":"D","g":"L","t":1442,"s":0.412},{"p":"D","g":"L","t":1519,"s":0.412},{"p":"D","g":"L","t":1595,"s":0.412},{"p":"D","g":"L","t":1653,"s":0.412},{"p":"D","g":"L","t":1768,"s":0.402},{"p":"D","g":"L","t":1940,"s":0.393},{"p":"D","g":"L","t":2016,"s":0.373},{"p":"D","g":"L","t":2093,"s":0.373},{"p":"D","g":"L","t":2169,"s":0.373},{"p":"D","g":"L","t":2322,"s":0.373},{"p":"D","g":"L","t":2380,"s":0.373},{"p":"D","g":"L","t":2418,"s":0.373},{"p":"D","g":"L","t":2667,"s":0.34},{"p":"D","g":"L","t":2705,"s":0.34},{"p":"D","g":"L","t":2812,"s":0.34},{"p":"D","g":"L","t":2915,"s":0.34},{"p":"D","g":"L","t":2992,"s":0.294},{"p":"D","g":"L","t":3348,"s":0.241},{"p":"D","g":"L","t":3451,"s":0.241},{"p":"D","g":"L","t":4025,"s":0.241},{"p":"D","g":"L","t":5020,"s":0.241},{"p":"D","g":"L","t":5096,"s":0.241},
{"p":"D","g":"H","t":84,"s":0.868},{"p":"D","g":"H","t":275,"s":0.737},{"p":"D","g":"H","t":352,"s":0.684},{"p":"D","g":"H","t":486,"s":0.605},{"p":"D","g":"H","t":562,"s":0.518},{"p":"D","g":"H","t":601,"s":0.478},{"p":"D","g":"H","t":754,"s":0.421},{"p":"D","g":"H","t":792,"s":0.421},{"p":"D","g":"H","t":830,"s":0.388},{"p":"D","g":"H","t":876,"s":0.36},{"p":"D","g":"H","t":991,"s":0.342},{"p":"D","g":"H","t":1041,"s":0.307},{"p":"D","g":"H","t":1182,"s":0.289},{"p":"D","g":"H","t":1645,"s":0.215},{"p":"D","g":"H","t":1710,"s":0.193},{"p":"D","g":"H","t":1844,"s":0.174},{"p":"D","g":"H","t":1902,"s":0.174},{"p":"D","g":"H","t":2648,"s":0.145},{"p":"D","g":"H","t":2889,"s":0.112},{"p":"D","g":"H","t":3038,"s":0.112},{"p":"D","g":"H","t":3394,"s":0.112},{"p":"D","g":"H","t":3853,"s":0.112},{"p":"D","g":"H","t":4388,"s":0.112},{"p":"D","g":"H","t":5108,"s":0.112},
{"p":"E","g":"L","t":320,"s":0.772},{"p":"E","g":"L","t":548,"s":0.625},{"p":"E","g":"L","t":777,"s":0.533},{"p":"E","g":"L","t":1005,"s":0.494},{"p":"E","g":"L","t":1233,"s":0.468},{"p":"E","g":"L","t":1348,"s":0.461},{"p":"E","g":"L","t":1462,"s":0.455},{"p":"E","g":"L","t":1690,"s":0.445},{"p":"E","g":"L","t":1804,"s":0.445},{"p":"E","g":"L","t":1976,"s":0.429},{"p":"E","g":"L","t":2090,"s":0.429},{"p":"E","g":"L","t":2204,"s":0.429},{"p":"E","g":"L","t":2604,"s":0.396},{"p":"E","g":"L","t":2718,"s":0.396},{"p":"E","g":"L","t":2946,"s":0.38},{"p":"E","g":"L","t":3289,"s":0.305},{"p":"E","g":"L","t":3403,"s":0.305},{"p":"E","g":"L","t":3860,"s":0.305},{"p":"E","g":"L","t":4031,"s":0.305},{"p":"E","g":"L","t":5002,"s":0.305},{"p":"E","g":"L","t":5070,"s":0.305},
{"p":"E","g":"H","t":434,"s":0.657},{"p":"E","g":"H","t":777,"s":0.429},{"p":"E","g":"H","t":948,"s":0.38},{"p":"E","g":"H","t":1348,"s":0.298},{"p":"E","g":"H","t":1462,"s":0.282},{"p":"E","g":"H","t":1976,"s":0.216},{"p":"E","g":"H","t":2604,"s":0.194},{"p":"E","g":"H","t":2832,"s":0.168},{"p":"E","g":"H","t":3060,"s":0.161},{"p":"E","g":"H","t":3403,"s":0.161},{"p":"E","g":"H","t":4397,"s":0.161},{"p":"E","g":"H","t":5093,"s":0.161},
{"p":"F","g":"L","t":77,"s":0.969},{"p":"F","g":"L","t":135,"s":0.947},{"p":"F","g":"L","t":290,"s":0.838},{"p":"F","g":"L","t":367,"s":0.798},{"p":"F","g":"L","t":463,"s":0.741},{"p":"F","g":"L","t":541,"s":0.706},{"p":"F","g":"L","t":598,"s":0.662},{"p":"F","g":"L","t":637,"s":0.636},{"p":"F","g":"L","t":734,"s":0.588},{"p":"F","g":"L","t":753,"s":0.588},{"p":"F","g":"L","t":811,"s":0.57},{"p":"F","g":"L","t":849,"s":0.57},{"p":"F","g":"L","t":927,"s":0.548},{"p":"F","g":"L","t":985,"s":0.531},{"p":"F","g":"L","t":1100,"s":0.522},{"p":"F","g":"L","t":1197,"s":0.515},{"p":"F","g":"L","t":1332,"s":0.496},{"p":"F","g":"L","t":1448,"s":0.478},{"p":"F","g":"L","t":1486,"s":0.478},{"p":"F","g":"L","t":1544,"s":0.478},{"p":"F","g":"L","t":1602,"s":0.478},{"p":"F","g":"L","t":1660,"s":0.478},{"p":"F","g":"L","t":1834,"s":0.474},{"p":"F","g":"L","t":1892,"s":0.461},{"p":"F","g":"L","t":1950,"s":0.461},{"p":"F","g":"L","t":2019,"s":0.441},{"p":"F","g":"L","t":2104,"s":0.421},{"p":"F","g":"L","t":2162,"s":0.421},{"p":"F","g":"L","t":2317,"s":0.421},{"p":"F","g":"L","t":2355,"s":0.421},{"p":"F","g":"L","t":2413,"s":0.421},{"p":"F","g":"L","t":2683,"s":0.395},{"p":"F","g":"L","t":2722,"s":0.395},{"p":"F","g":"L","t":2807,"s":0.395},{"p":"F","g":"L","t":2907,"s":0.355},{"p":"F","g":"L","t":2985,"s":0.316},{"p":"F","g":"L","t":3340,"s":0.269},{"p":"F","g":"L","t":3398,"s":0.269},{"p":"F","g":"L","t":3448,"s":0.269},{"p":"F","g":"L","t":4015,"s":0.269},{"p":"F","g":"L","t":5027,"s":0.269},{"p":"F","g":"L","t":5097,"s":0.269},
{"p":"F","g":"H","t":97,"s":0.89},{"p":"F","g":"H","t":232,"s":0.803},{"p":"F","g":"H","t":347,"s":0.75},{"p":"F","g":"H","t":444,"s":0.654},{"p":"F","g":"H","t":541,"s":0.575},{"p":"F","g":"H","t":618,"s":0.539},{"p":"F","g":"H","t":753,"s":0.502},{"p":"F","g":"H","t":792,"s":0.502},{"p":"F","g":"H","t":830,"s":0.469},{"p":"F","g":"H","t":869,"s":0.437},{"p":"F","g":"H","t":1004,"s":0.437},{"p":"F","g":"H","t":1042,"s":0.373},{"p":"F","g":"H","t":1131,"s":0.349},{"p":"F","g":"H","t":1178,"s":0.349},{"p":"F","g":"H","t":1649,"s":0.31},{"p":"F","g":"H","t":1699,"s":0.289},{"p":"F","g":"H","t":1757,"s":0.289},{"p":"F","g":"H","t":1795,"s":0.289},{"p":"F","g":"H","t":1834,"s":0.261},{"p":"F","g":"H","t":1911,"s":0.261},{"p":"F","g":"H","t":2645,"s":0.261},{"p":"F","g":"H","t":2896,"s":0.261},{"p":"F","g":"H","t":3039,"s":0.261},{"p":"F","g":"H","t":3456,"s":0.263},{"p":"F","g":"H","t":3861,"s":0.263},{"p":"F","g":"H","t":4390,"s":0.263},{"p":"F","g":"H","t":5108,"s":0.263},
{"p":"G","g":"L","t":137,"s":0.918},{"p":"G","g":"L","t":309,"s":0.814},{"p":"G","g":"L","t":480,"s":0.706},{"p":"G","g":"L","t":652,"s":0.618},{"p":"G","g":"L","t":766,"s":0.575},{"p":"G","g":"L","t":881,"s":0.552},{"p":"G","g":"L","t":1052,"s":0.52},{"p":"G","g":"L","t":1281,"s":0.493},{"p":"G","g":"L","t":1396,"s":0.493},{"p":"G","g":"L","t":1510,"s":0.493},{"p":"G","g":"L","t":1739,"s":0.464},{"p":"G","g":"L","t":1910,"s":0.461},{"p":"G","g":"L","t":2082,"s":0.438},{"p":"G","g":"L","t":2196,"s":0.428},{"p":"G","g":"L","t":2311,"s":0.428},{"p":"G","g":"L","t":2368,"s":0.428},{"p":"G","g":"L","t":2654,"s":0.405},{"p":"G","g":"L","t":2768,"s":0.405},{"p":"G","g":"L","t":3340,"s":0.324},{"p":"G","g":"L","t":3398,"s":0.324},{"p":"G","g":"L","t":3455,"s":0.324},{"p":"G","g":"L","t":4027,"s":0.324},{"p":"G","g":"L","t":4999,"s":0.324},{"p":"G","g":"L","t":5091,"s":0.324},
{"p":"G","g":"H","t":309,"s":0.798},{"p":"G","g":"H","t":595,"s":0.618},{"p":"G","g":"H","t":709,"s":0.52},{"p":"G","g":"H","t":801,"s":0.412},{"p":"G","g":"H","t":1075,"s":0.363},{"p":"G","g":"H","t":1281,"s":0.363},{"p":"G","g":"H","t":1682,"s":0.284},{"p":"G","g":"H","t":1853,"s":0.258},{"p":"G","g":"H","t":2883,"s":0.177},{"p":"G","g":"H","t":3020,"s":0.177},{"p":"G","g":"H","t":4370,"s":0.177},{"p":"G","g":"H","t":5091,"s":0.177},
{"p":"H","g":"L","t":58,"s":0.928},{"p":"H","g":"L","t":174,"s":0.884},{"p":"H","g":"L","t":291,"s":0.783},{"p":"H","g":"L","t":368,"s":0.757},{"p":"H","g":"L","t":388,"s":0.753},{"p":"H","g":"L","t":485,"s":0.691},{"p":"H","g":"L","t":523,"s":0.678},{"p":"H","g":"L","t":543,"s":0.647},{"p":"H","g":"L","t":601,"s":0.625},{"p":"H","g":"L","t":640,"s":0.601},{"p":"H","g":"L","t":659,"s":0.595},{"p":"H","g":"L","t":717,"s":0.566},{"p":"H","g":"L","t":775,"s":0.538},{"p":"H","g":"L","t":833,"s":0.529},{"p":"H","g":"L","t":891,"s":0.529},{"p":"H","g":"L","t":1047,"s":0.494},{"p":"H","g":"L","t":1105,"s":0.491},{"p":"H","g":"L","t":1163,"s":0.487},{"p":"H","g":"L","t":1318,"s":0.459},{"p":"H","g":"L","t":1395,"s":0.435},{"p":"H","g":"L","t":1434,"s":0.435},{"p":"H","g":"L","t":1512,"s":0.435},{"p":"H","g":"L","t":1589,"s":0.435},{"p":"H","g":"L","t":1647,"s":0.435},{"p":"H","g":"L","t":1744,"s":0.447},{"p":"H","g":"L","t":1802,"s":0.406},{"p":"H","g":"L","t":1860,"s":0.406},{"p":"H","g":"L","t":1919,"s":0.393},{"p":"H","g":"L","t":2035,"s":0.404},{"p":"H","g":"L","t":2171,"s":0.404},{"p":"H","g":"L","t":2326,"s":0.404},{"p":"H","g":"L","t":2423,"s":0.404},{"p":"H","g":"L","t":2674,"s":0.374},{"p":"H","g":"L","t":2713,"s":0.374},{"p":"H","g":"L","t":2888,"s":0.374},{"p":"H","g":"L","t":2985,"s":0.336},{"p":"H","g":"L","t":3333,"s":0.285},{"p":"H","g":"L","t":3442,"s":0.285},{"p":"H","g":"L","t":3849,"s":0.285},{"p":"H","g":"L","t":4012,"s":0.285},{"p":"H","g":"L","t":5019,"s":0.285},{"p":"H","g":"L","t":5085,"s":0.285},
{"p":"H","g":"H","t":155,"s":0.845},{"p":"H","g":"H","t":271,"s":0.77},{"p":"H","g":"H","t":388,"s":0.704},{"p":"H","g":"H","t":465,"s":0.643},{"p":"H","g":"H","t":523,"s":0.573},{"p":"H","g":"H","t":574,"s":0.545},{"p":"H","g":"H","t":620,"s":0.527},{"p":"H","g":"H","t":775,"s":0.496},{"p":"H","g":"H","t":891,"s":0.364},{"p":"H","g":"H","t":930,"s":0.364},{"p":"H","g":"H","t":988,"s":0.347},{"p":"H","g":"H","t":1163,"s":0.314},{"p":"H","g":"H","t":1221,"s":0.314},{"p":"H","g":"H","t":1492,"s":0.27},{"p":"H","g":"H","t":1550,"s":0.27},{"p":"H","g":"H","t":1647,"s":0.248},{"p":"H","g":"H","t":1705,"s":0.222},{"p":"H","g":"H","t":1919,"s":0.222},{"p":"H","g":"H","t":2636,"s":0.187},{"p":"H","g":"H","t":2810,"s":0.187},{"p":"H","g":"H","t":3031,"s":0.143},{"p":"H","g":"H","t":3392,"s":0.143},{"p":"H","g":"H","t":4388,"s":0.143},{"p":"H","g":"H","t":5097,"s":0.143},
{"p":"I","g":"L","t":27,"s":0.976},{"p":"I","g":"L","t":142,"s":0.932},{"p":"I","g":"L","t":181,"s":0.911},{"p":"I","g":"L","t":296,"s":0.818},{"p":"I","g":"L","t":373,"s":0.788},{"p":"I","g":"L","t":412,"s":0.779},{"p":"I","g":"L","t":470,"s":0.709},{"p":"I","g":"L","t":527,"s":0.694},{"p":"I","g":"L","t":585,"s":0.643},{"p":"I","g":"L","t":643,"s":0.621},{"p":"I","g":"L","t":681,"s":0.59},{"p":"I","g":"L","t":720,"s":0.588},{"p":"I","g":"L","t":797,"s":0.573},{"p":"I","g":"L","t":854,"s":0.554},{"p":"I","g":"L","t":912,"s":0.545},{"p":"I","g":"L","t":989,"s":0.525},{"p":"I","g":"L","t":1066,"s":0.498},{"p":"I","g":"L","t":1124,"s":0.496},{"p":"I","g":"L","t":1316,"s":0.489},{"p":"I","g":"L","t":1374,"s":0.482},{"p":"I","g":"L","t":1451,"s":0.482},{"p":"I","g":"L","t":1490,"s":0.482},{"p":"I","g":"L","t":1547,"s":0.482},{"p":"I","g":"L","t":1605,"s":0.482},{"p":"I","g":"L","t":1663,"s":0.482},{"p":"I","g":"L","t":1721,"s":0.482},{"p":"I","g":"L","t":1798,"s":0.482},{"p":"I","g":"L","t":1836,"s":0.469},{"p":"I","g":"L","t":1894,"s":0.453},{"p":"I","g":"L","t":2009,"s":0.439},{"p":"I","g":"L","t":2067,"s":0.439},{"p":"I","g":"L","t":2163,"s":0.439},{"p":"I","g":"L","t":2317,"s":0.439},{"p":"I","g":"L","t":2375,"s":0.439},{"p":"I","g":"L","t":2433,"s":0.439},{"p":"I","g":"L","t":2644,"s":0.439},{"p":"I","g":"L","t":2721,"s":0.406},{"p":"I","g":"L","t":2817,"s":0.406},{"p":"I","g":"L","t":2914,"s":0.406},{"p":"I","g":"L","t":2983,"s":0.371},{"p":"I","g":"L","t":3337,"s":0.327},{"p":"I","g":"L","t":3445,"s":0.327},{"p":"I","g":"L","t":3849,"s":0.327},{"p":"I","g":"L","t":4018,"s":0.327},{"p":"I","g":"L","t":4384,"s":0.327},{"p":"I","g":"L","t":5011,"s":0.327},{"p":"I","g":"L","t":5088,"s":0.327},
{"p":"I","g":"H","t":65,"s":0.937},{"p":"I","g":"H","t":450,"s":0.678},{"p":"I","g":"H","t":481,"s":0.68},{"p":"I","g":"H","t":508,"s":0.643},{"p":"I","g":"H","t":558,"s":0.621},{"p":"I","g":"H","t":635,"s":0.573},{"p":"I","g":"H","t":701,"s":0.545},{"p":"I","g":"H","t":758,"s":0.496},{"p":"I","g":"H","t":797,"s":0.496},{"p":"I","g":"H","t":835,"s":0.472},{"p":"I","g":"H","t":893,"s":0.428},{"p":"I","g":"H","t":931,"s":0.428},{"p":"I","g":"H","t":981,"s":0.428},{"p":"I","g":"H","t":1182,"s":0.371},{"p":"I","g":"H","t":1220,"s":0.371},{"p":"I","g":"H","t":1586,"s":0.283},{"p":"I","g":"H","t":1644,"s":0.283},{"p":"I","g":"H","t":1721,"s":0.261},{"p":"I","g":"H","t":1778,"s":0.261},{"p":"I","g":"H","t":1913,"s":0.226},{"p":"I","g":"H","t":2887,"s":0.187},{"p":"I","g":"H","t":3029,"s":0.187},{"p":"I","g":"H","t":3387,"s":0.187},{"p":"I","g":"H","t":5100,"s":0.187},
{"p":"J","g":"L","t":160,"s":0.89},{"p":"J","g":"L","t":366,"s":0.77},{"p":"J","g":"L","t":538,"s":0.68},{"p":"J","g":"L","t":709,"s":0.599},{"p":"J","g":"L","t":881,"s":0.55},{"p":"J","g":"L","t":1052,"s":0.518},{"p":"J","g":"L","t":1167,"s":0.502},{"p":"J","g":"L","t":1281,"s":0.495},{"p":"J","g":"L","t":1396,"s":0.495},{"p":"J","g":"L","t":1510,"s":0.495},{"p":"J","g":"L","t":1739,"s":0.47},{"p":"J","g":"L","t":1853,"s":0.463},{"p":"J","g":"L","t":2025,"s":0.46},{"p":"J","g":"L","t":2139,"s":0.46},{"p":"J","g":"L","t":2311,"s":0.453},{"p":"J","g":"L","t":2677,"s":0.428},{"p":"J","g":"L","t":2768,"s":0.428},{"p":"J","g":"L","t":2883,"s":0.411},{"p":"J","g":"L","t":3340,"s":0.331},{"p":"J","g":"L","t":3398,"s":0.331},{"p":"J","g":"L","t":3741,"s":0.331},{"p":"J","g":"L","t":4027,"s":0.331},{"p":"J","g":"L","t":5022,"s":0.331},{"p":"J","g":"L","t":5091,"s":0.331},
{"p":"J","g":"H","t":389,"s":0.712},{"p":"J","g":"H","t":709,"s":0.55},{"p":"J","g":"H","t":824,"s":0.421},{"p":"J","g":"H","t":1052,"s":0.363},{"p":"J","g":"H","t":1167,"s":0.363},{"p":"J","g":"H","t":1510,"s":0.259},{"p":"J","g":"H","t":1682,"s":0.233},{"p":"J","g":"H","t":2883,"s":0.136},{"p":"J","g":"H","t":3020,"s":0.136},{"p":"J","g":"H","t":3398,"s":0.136},{"p":"J","g":"H","t":4370,"s":0.136},{"p":"J","g":"H","t":5091,"s":0.136},
{"p":"K","g":"L","t":39,"s":0.92},{"p":"K","g":"L","t":116,"s":0.876},{"p":"K","g":"L","t":194,"s":0.854},{"p":"K","g":"L","t":233,"s":0.82},{"p":"K","g":"L","t":291,"s":0.776},{"p":"K","g":"L","t":349,"s":0.75},{"p":"K","g":"L","t":407,"s":0.715},{"p":"K","g":"L","t":465,"s":0.698},{"p":"K","g":"L","t":504,"s":0.672},{"p":"K","g":"L","t":562,"s":0.646},{"p":"K","g":"L","t":601,"s":0.62},{"p":"K","g":"L","t":640,"s":0.589},{"p":"K","g":"L","t":678,"s":0.576},{"p":"K","g":"L","t":736,"s":0.559},{"p":"K","g":"L","t":775,"s":0.554},{"p":"K","g":"L","t":833,"s":0.533},{"p":"K","g":"L","t":891,"s":0.528},{"p":"K","g":"L","t":950,"s":0.515},{"p":"K","g":"L","t":1008,"s":0.507},{"p":"K","g":"L","t":1047,"s":0.485},{"p":"K","g":"L","t":1124,"s":0.476},{"p":"K","g":"L","t":1182,"s":0.467},{"p":"K","g":"L","t":1318,"s":0.463},{"p":"K","g":"L","t":1376,"s":0.456},{"p":"K","g":"L","t":1454,"s":0.456},{"p":"K","g":"L","t":1512,"s":0.456},{"p":"K","g":"L","t":1589,"s":0.446},{"p":"K","g":"L","t":1647,"s":0.446},{"p":"K","g":"L","t":1783,"s":0.437},{"p":"K","g":"L","t":1841,"s":0.42},{"p":"K","g":"L","t":1899,"s":0.411},{"p":"K","g":"L","t":1957,"s":0.408},{"p":"K","g":"L","t":2074,"s":0.373},{"p":"K","g":"L","t":2151,"s":0.373},{"p":"K","g":"L","t":2306,"s":0.372},{"p":"K","g":"L","t":2364,"s":0.372},{"p":"K","g":"L","t":2423,"s":0.372},{"p":"K","g":"L","t":2694,"s":0.341},{"p":"K","g":"L","t":2907,"s":0.341},{"p":"K","g":"L","t":2985,"s":0.298},{"p":"K","g":"L","t":3353,"s":0.246},{"p":"K","g":"L","t":3461,"s":0.246},{"p":"K","g":"L","t":3857,"s":0.246},{"p":"K","g":"L","t":5027,"s":0.246},{"p":"K","g":"L","t":5097,"s":0.246},
{"p":"K","g":"H","t":116,"s":0.876},{"p":"K","g":"H","t":252,"s":0.759},{"p":"K","g":"H","t":291,"s":0.711},{"p":"K","g":"H","t":368,"s":0.646},{"p":"K","g":"H","t":426,"s":0.602},{"p":"K","g":"H","t":465,"s":0.563},{"p":"K","g":"H","t":523,"s":0.52},{"p":"K","g":"H","t":601,"s":0.446},{"p":"K","g":"H","t":640,"s":0.424},{"p":"K","g":"H","t":698,"s":0.398},{"p":"K","g":"H","t":775,"s":0.366},{"p":"K","g":"H","t":833,"s":0.366},{"p":"K","g":"H","t":903,"s":0.315},{"p":"K","g":"H","t":1008,"s":0.315},{"p":"K","g":"H","t":1190,"s":0.254},{"p":"K","g":"H","t":1725,"s":0.172},{"p":"K","g":"H","t":1926,"s":0.172},{"p":"K","g":"H","t":2198,"s":0.172},{"p":"K","g":"H","t":2655,"s":0.172},{"p":"K","g":"H","t":2818,"s":0.172},{"p":"K","g":"H","t":3043,"s":0.133},{"p":"K","g":"H","t":3399,"s":0.133},{"p":"K","g":"H","t":4031,"s":0.133},{"p":"K","g":"H","t":4391,"s":0.133},{"p":"K","g":"H","t":5105,"s":0.133},
{"p":"L","g":"L","t":206,"s":0.858},{"p":"L","g":"L","t":379,"s":0.761},{"p":"L","g":"L","t":551,"s":0.68},{"p":"L","g":"L","t":723,"s":0.599},{"p":"L","g":"L","t":895,"s":0.567},{"p":"L","g":"L","t":1067,"s":0.544},{"p":"L","g":"L","t":1181,"s":0.534},{"p":"L","g":"L","t":1296,"s":0.534},{"p":"L","g":"L","t":1411,"s":0.534},{"p":"L","g":"L","t":1526,"s":0.534},{"p":"L","g":"L","t":1640,"s":0.534},{"p":"L","g":"L","t":1812,"s":0.479},{"p":"L","g":"L","t":1927,"s":0.453},{"p":"L","g":"L","t":2042,"s":0.421},{"p":"L","g":"L","t":2156,"s":0.421},{"p":"L","g":"L","t":2271,"s":0.421},{"p":"L","g":"L","t":2673,"s":0.382},{"p":"L","g":"L","t":2787,"s":0.382},{"p":"L","g":"L","t":2994,"s":0.356},{"p":"L","g":"L","t":3361,"s":0.298},{"p":"L","g":"L","t":3452,"s":0.298},{"p":"L","g":"L","t":3877,"s":0.298},{"p":"L","g":"L","t":4255,"s":0.298},{"p":"L","g":"L","t":5081,"s":0.298},
{"p":"L","g":"H","t":379,"s":0.745},{"p":"L","g":"H","t":665,"s":0.55},{"p":"L","g":"H","t":780,"s":0.453},{"p":"L","g":"H","t":952,"s":0.363},{"p":"L","g":"H","t":1640,"s":0.211},{"p":"L","g":"H","t":1755,"s":0.204},{"p":"L","g":"H","t":1984,"s":0.178},{"p":"L","g":"H","t":2443,"s":0.146},{"p":"L","g":"H","t":2845,"s":0.114},{"p":"L","g":"H","t":3475,"s":0.104},{"p":"L","g":"H","t":5081,"s":0.104}
]
},
"spacing":50,
"vconcat":[
{"hconcat":[
{"width":612,"height":418,"data":{"values":[{}]},"layer":[
{"data":{"name":"c"},"transform":[{"filter":"datum.p==='A'"}],"mark":{"type":"line","interpolate":"step-after","strokeWidth":1.8},"encoding":{"x":{"field":"t","type":"quantitative","scale":{"domain":[-267,5358],"nice":false,"zero":false},"axis":{"values":[0,1000,2000,3000,4000,5000],"format":"d","title":null,"labelOffset":{"condition":[{"test":"datum.value==0","value":1},{"test":"datum.value==5000","value":-3}],"value":10}}},"y":{"field":"s","type":"quantitative","scale":{"domain":[-0.044,1.044],"nice":false,"zero":false},"axis":{"values":[0,0.25,0.5,0.75,1],"labelExpr":"datum.value==0.25||datum.value==0.75?'':format(datum.value,'.1f')","title":"Survival probability","labelOffset":{"condition":[{"test":"datum.value==1","value":6},{"test":"datum.value==0.5","value":-4.5}],"value":6}}},"color":{"field":"g","type":"nominal","scale":{"domain":["H","L"],"range":["#ff1f1f","#2222ff"]},"legend":null}}},
{"data":{"name":"k"},"transform":[{"filter":"datum.p==='A'"}],"mark":{"type":"point","shape":"M-1,0L1,0M0,-1L0,1","filled":false,"size":30,"strokeWidth":1.3,"opacity":1},"encoding":{"x":{"field":"t","type":"quantitative"},"y":{"field":"s","type":"quantitative"},"color":{"field":"g","type":"nominal","legend":null}}},
{"mark":{"type":"rule","color":"#8a8a8a","strokeWidth":2},"encoding":{"x":{"datum":-506,"type":"quantitative"},"x2":{"datum":5165},"y":{"datum":1.079,"type":"quantitative"}}},
{"mark":{"type":"text","text":"A","font":"Liberation Serif","fontSize":32,"align":"left","baseline":"alphabetic"},"encoding":{"x":{"datum":1366,"type":"quantitative"},"y":{"datum":1.005,"type":"quantitative"}}},
{"mark":{"type":"text","text":"AEBP1( p = 0.013).","font":"Liberation Serif","fontSize":24,"align":"left","baseline":"alphabetic"},"encoding":{"x":{"datum":1882,"type":"quantitative"},"y":{"datum":1.005,"type":"quantitative"}}},
{"mark":{"type":"text","text":"++","fontSize":13.5,"color":"#ff2020","align":"left","baseline":"middle"},"encoding":{"x":{"datum":2889,"type":"quantitative"},"y":{"datum":0.66,"type":"quantitative"}}},
{"mark":{"type":"text","text":"High expression (n=101)","fontSize":13.5,"color":"#111111","align":"left","baseline":"middle","dx":15.8},"encoding":{"x":{"datum":2889,"type":"quantitative"},"y":{"datum":0.66,"type":"quantitative"}}},
{"mark":{"type":"text","text":"++Low/Medium−expression (n=305)","fontSize":13.5,"color":"#3a6bc8","align":"left","baseline":"middle"},"encoding":{"x":{"datum":2889,"type":"quantitative"},"y":{"datum":0.615,"type":"quantitative"}}},
{"mark":{"type":"text","text":"Time in days","fontSize":18.5,"align":"right","baseline":"middle"},"encoding":{"x":{"datum":5115,"type":"quantitative"},"y":{"datum":0.004,"type":"quantitative"}}},
{"mark":{"type":"tick","orient":"horizontal","size":8,"thickness":1.5,"color":"#ff2020"},"encoding":{"x":{"datum":3580,"type":"quantitative"},"y":{"datum":0.027,"type":"quantitative"}}},
{"mark":{"type":"tick","orient":"horizontal","size":8,"thickness":1.5,"color":"#2222ff"},"encoding":{"x":{"datum":3580,"type":"quantitative"},"y":{"datum":0.004,"type":"quantitative"}}}
]},
{"width":612,"height":418,"data":{"values":[{}]},"layer":[
{"data":{"name":"c"},"transform":[{"filter":"datum.p==='B'"}],"mark":{"type":"line","interpolate":"step-after","strokeWidth":1.8},"encoding":{"x":{"field":"t","type":"quantitative","scale":{"domain":[-267,5358],"nice":false,"zero":false},"axis":{"values":[0,1000,2000,3000,4000,5000],"format":"d","title":null,"labelOffset":{"condition":[{"test":"datum.value==0","value":1},{"test":"datum.value==5000","value":-3}],"value":10}}},"y":{"field":"s","type":"quantitative","scale":{"domain":[-0.044,1.044],"nice":false,"zero":false},"axis":{"values":[0,0.25,0.5,0.75,1],"labelExpr":"datum.value==0.25||datum.value==0.75?'':format(datum.value,'.1f')","title":"Survival probability","labelOffset":{"condition":[{"test":"datum.value==1","value":6},{"test":"datum.value==0.5","value":-4.5}],"value":6}}},"color":{"field":"g","type":"nominal","scale":{"domain":["H","L"],"range":["#ff1f1f","#2222ff"]},"legend":null}}},
{"data":{"name":"k"},"transform":[{"filter":"datum.p==='B'"}],"mark":{"type":"point","shape":"M-1,0L1,0M0,-1L0,1","filled":false,"size":30,"strokeWidth":1.3,"opacity":1},"encoding":{"x":{"field":"t","type":"quantitative"},"y":{"field":"s","type":"quantitative"},"color":{"field":"g","type":"nominal","legend":null}}},
{"mark":{"type":"rule","color":"#8a8a8a","strokeWidth":2},"encoding":{"x":{"datum":-506,"type":"quantitative"},"x2":{"datum":5128},"y":{"datum":1.079,"type":"quantitative"}}},
{"mark":{"type":"text","text":"B","font":"Liberation Serif","fontSize":32,"align":"left","baseline":"alphabetic"},"encoding":{"x":{"datum":1290,"type":"quantitative"},"y":{"datum":1.006,"type":"quantitative"}}},
{"mark":{"type":"text","text":"BGN(p = 0.014).","font":"Liberation Serif","fontSize":24,"align":"left","baseline":"alphabetic"},"encoding":{"x":{"datum":1713,"type":"quantitative"},"y":{"datum":1.006,"type":"quantitative"}}},
{"mark":{"type":"text","text":"++","fontSize":13.5,"color":"#ff2020","align":"left","baseline":"middle"},"encoding":{"x":{"datum":2684,"type":"quantitative"},"y":{"datum":0.677,"type":"quantitative"}}},
{"mark":{"type":"text","text":"High expression (n=101)","fontSize":13.5,"color":"#111111","align":"left","baseline":"middle","dx":15.8},"encoding":{"x":{"datum":2684,"type":"quantitative"},"y":{"datum":0.677,"type":"quantitative"}}},
{"mark":{"type":"text","text":"++Low/Medium−expression (n=305)","fontSize":13.5,"color":"#3a6bc8","align":"left","baseline":"middle"},"encoding":{"x":{"datum":2684,"type":"quantitative"},"y":{"datum":0.631,"type":"quantitative"}}},
{"mark":{"type":"text","text":"Time in days","fontSize":18.5,"align":"right","baseline":"middle"},"encoding":{"x":{"datum":5115,"type":"quantitative"},"y":{"datum":0.004,"type":"quantitative"}}},
{"mark":{"type":"tick","orient":"horizontal","size":8,"thickness":1.5,"color":"#ff2020"},"encoding":{"x":{"datum":3580,"type":"quantitative"},"y":{"datum":0.027,"type":"quantitative"}}},
{"mark":{"type":"tick","orient":"horizontal","size":8,"thickness":1.5,"color":"#2222ff"},"encoding":{"x":{"datum":3580,"type":"quantitative"},"y":{"datum":0.004,"type":"quantitative"}}}
]},
{"width":612,"height":418,"data":{"values":[{}]},"layer":[
{"data":{"name":"c"},"transform":[{"filter":"datum.p==='C'"}],"mark":{"type":"line","interpolate":"step-after","strokeWidth":1.8},"encoding":{"x":{"field":"t","type":"quantitative","scale":{"domain":[-267,5358],"nice":false,"zero":false},"axis":{"values":[0,1000,2000,3000,4000,5000],"format":"d","title":null,"labelOffset":{"condition":[{"test":"datum.value==0","value":1},{"test":"datum.value==5000","value":-3}],"value":10}}},"y":{"field":"s","type":"quantitative","scale":{"domain":[-0.044,1.044],"nice":false,"zero":false},"axis":{"values":[0,0.25,0.5,0.75,1],"labelExpr":"datum.value==0.25||datum.value==0.75?'':format(datum.value,'.1f')","title":"Survival probability","labelOffset":{"condition":[{"test":"datum.value==1","value":6},{"test":"datum.value==0.5","value":-4.5}],"value":6}}},"color":{"field":"g","type":"nominal","scale":{"domain":["H","L"],"range":["#ff1f1f","#2222ff"]},"legend":null}}},
{"data":{"name":"k"},"transform":[{"filter":"datum.p==='C'"}],"mark":{"type":"point","shape":"M-1,0L1,0M0,-1L0,1","filled":false,"size":30,"strokeWidth":1.3,"opacity":1},"encoding":{"x":{"field":"t","type":"quantitative"},"y":{"field":"s","type":"quantitative"},"color":{"field":"g","type":"nominal","legend":null}}},
{"mark":{"type":"rule","color":"#8a8a8a","strokeWidth":2},"encoding":{"x":{"datum":-506,"type":"quantitative"},"x2":{"datum":5358},"y":{"datum":1.079,"type":"quantitative"}}},
{"mark":{"type":"text","text":"C","font":"Liberation Serif","fontSize":32,"align":"left","baseline":"alphabetic"},"encoding":{"x":{"datum":1067,"type":"quantitative"},"y":{"datum":1.006,"type":"quantitative"}}},
{"mark":{"type":"text","text":"CDH11 (p = 0.022).","font":"Liberation Serif","fontSize":24,"align":"left","baseline":"alphabetic"},"encoding":{"x":{"datum":1388,"type":"quantitative"},"y":{"datum":1.006,"type":"quantitative"}}},
{"mark":{"type":"text","text":"++","fontSize":13.5,"color":"#ff2020","align":"left","baseline":"middle"},"encoding":{"x":{"datum":2535,"type":"quantitative"},"y":{"datum":0.653,"type":"quantitative"}}},
{"mark":{"type":"text","text":"High expression (n=101)","fontSize":13.5,"color":"#111111","align":"left","baseline":"middle","dx":15.8},"encoding":{"x":{"datum":2535,"type":"quantitative"},"y":{"datum":0.653,"type":"quantitative"}}},
{"mark":{"type":"text","text":"++Low/Medium−expression (n=305)","fontSize":13.5,"color":"#3a6bc8","align":"left","baseline":"middle"},"encoding":{"x":{"datum":2535,"type":"quantitative"},"y":{"datum":0.608,"type":"quantitative"}}},
{"mark":{"type":"text","text":"Time in days","fontSize":18.5,"align":"right","baseline":"middle"},"encoding":{"x":{"datum":5115,"type":"quantitative"},"y":{"datum":0.004,"type":"quantitative"}}},
{"mark":{"type":"tick","orient":"horizontal","size":8,"thickness":1.5,"color":"#ff2020"},"encoding":{"x":{"datum":3580,"type":"quantitative"},"y":{"datum":0.027,"type":"quantitative"}}},
{"mark":{"type":"tick","orient":"horizontal","size":8,"thickness":1.5,"color":"#2222ff"},"encoding":{"x":{"datum":3580,"type":"quantitative"},"y":{"datum":0.004,"type":"quantitative"}}}
]}
],"spacing":9},
{"spacing":33,"vconcat":[
{"spacing":10,"vconcat":[
{"hconcat":[
{"width":612,"height":418,"data":{"values":[{}]},"layer":[
{"data":{"name":"c"},"transform":[{"filter":"datum.p==='D'"}],"mark":{"type":"line","interpolate":"step-after","strokeWidth":1.8},"encoding":{"x":{"field":"t","type":"quantitative","scale":{"domain":[-267,5358],"nice":false,"zero":false},"axis":{"values":[0,1000,2000,3000,4000,5000],"format":"d","title":null,"labelOffset":{"condition":[{"test":"datum.value==0","value":1},{"test":"datum.value==5000","value":-3}],"value":10}}},"y":{"field":"s","type":"quantitative","scale":{"domain":[-0.044,1.044],"nice":false,"zero":false},"axis":{"values":[0,0.25,0.5,0.75,1],"labelExpr":"datum.value==0.25||datum.value==0.75?'':format(datum.value,'.1f')","title":"Survival probability","labelOffset":{"condition":[{"test":"datum.value==1","value":6},{"test":"datum.value==0.5","value":-4.5}],"value":6}}},"color":{"field":"g","type":"nominal","scale":{"domain":["H","L"],"range":["#ff1f1f","#2222ff"]},"legend":null}}},
{"data":{"name":"k"},"transform":[{"filter":"datum.p==='D'"}],"mark":{"type":"point","shape":"M-1,0L1,0M0,-1L0,1","filled":false,"size":30,"strokeWidth":1.3,"opacity":1},"encoding":{"x":{"field":"t","type":"quantitative"},"y":{"field":"s","type":"quantitative"},"color":{"field":"g","type":"nominal","legend":null}}},
{"mark":{"type":"rule","color":"#8a8a8a","strokeWidth":2},"encoding":{"x":{"datum":-506,"type":"quantitative"},"x2":{"datum":5147},"y":{"datum":1.079,"type":"quantitative"}}},
{"mark":{"type":"text","text":"D","font":"Liberation Serif","fontSize":32,"align":"left","baseline":"alphabetic"},"encoding":{"x":{"datum":1136,"type":"quantitative"},"y":{"datum":0.982,"type":"quantitative"}}},
{"mark":{"type":"text","text":"COL1A1(p = 0.016).","font":"Liberation Serif","fontSize":24,"align":"left","baseline":"alphabetic"},"encoding":{"x":{"datum":1519,"type":"quantitative"},"y":{"datum":0.982,"type":"quantitative"}}},
{"mark":{"type":"text","text":"++","fontSize":13.5,"color":"#ff2020","align":"left","baseline":"middle"},"encoding":{"x":{"datum":2574,"type":"quantitative"},"y":{"datum":0.602,"type":"quantitative"}}},
{"mark":{"type":"text","text":"High expression (n=101)","fontSize":13.5,"color":"#111111","align":"left","baseline":"middle","dx":15.8},"encoding":{"x":{"datum":2574,"type":"quantitative"},"y":{"datum":0.602,"type":"quantitative"}}},
{"mark":{"type":"text","text":"++Low/Medium−expression (n=305)","fontSize":13.5,"color":"#3a6bc8","align":"left","baseline":"middle"},"encoding":{"x":{"datum":2574,"type":"quantitative"},"y":{"datum":0.556,"type":"quantitative"}}},
{"mark":{"type":"text","text":"Time in days","fontSize":18.5,"align":"right","baseline":"middle"},"encoding":{"x":{"datum":5115,"type":"quantitative"},"y":{"datum":0.004,"type":"quantitative"}}},
{"mark":{"type":"tick","orient":"horizontal","size":8,"thickness":1.5,"color":"#ff2020"},"encoding":{"x":{"datum":3580,"type":"quantitative"},"y":{"datum":0.027,"type":"quantitative"}}},
{"mark":{"type":"tick","orient":"horizontal","size":8,"thickness":1.5,"color":"#2222ff"},"encoding":{"x":{"datum":3580,"type":"quantitative"},"y":{"datum":0.004,"type":"quantitative"}}}
]},
{"width":612,"height":418,"data":{"values":[{}]},"layer":[
{"data":{"name":"c"},"transform":[{"filter":"datum.p==='E'"}],"mark":{"type":"line","interpolate":"step-after","strokeWidth":1.8},"encoding":{"x":{"field":"t","type":"quantitative","scale":{"domain":[-267,5358],"nice":false,"zero":false},"axis":{"values":[0,1000,2000,3000,4000,5000],"format":"d","title":null,"labelOffset":{"condition":[{"test":"datum.value==0","value":1},{"test":"datum.value==5000","value":-3}],"value":10}}},"y":{"field":"s","type":"quantitative","scale":{"domain":[-0.044,1.044],"nice":false,"zero":false},"axis":{"values":[0,0.25,0.5,0.75,1],"labelExpr":"datum.value==0.25||datum.value==0.75?'':format(datum.value,'.1f')","title":"Survival probability","labelOffset":{"condition":[{"test":"datum.value==1","value":6},{"test":"datum.value==0.5","value":-4.5}],"value":6}}},"color":{"field":"g","type":"nominal","scale":{"domain":["H","L"],"range":["#ff1f1f","#2222ff"]},"legend":null}}},
{"data":{"name":"k"},"transform":[{"filter":"datum.p==='E'"}],"mark":{"type":"point","shape":"M-1,0L1,0M0,-1L0,1","filled":false,"size":30,"strokeWidth":1.3,"opacity":1},"encoding":{"x":{"field":"t","type":"quantitative"},"y":{"field":"s","type":"quantitative"},"color":{"field":"g","type":"nominal","legend":null}}},
{"mark":{"type":"rule","color":"#8a8a8a","strokeWidth":2},"encoding":{"x":{"datum":-506,"type":"quantitative"},"x2":{"datum":5284},"y":{"datum":1.079,"type":"quantitative"}}},
{"mark":{"type":"text","text":"E","font":"Liberation Serif","fontSize":32,"align":"left","baseline":"alphabetic"},"encoding":{"x":{"datum":1268,"type":"quantitative"},"y":{"datum":0.981,"type":"quantitative"}}},
{"mark":{"type":"text","text":"COL1A2(p = 0.015).","font":"Liberation Serif","fontSize":19,"fontWeight":"bold","align":"left","baseline":"alphabetic"},"encoding":{"x":{"datum":1690,"type":"quantitative"},"y":{"datum":0.981,"type":"quantitative"}}},
{"mark":{"type":"text","text":"++","fontSize":13.5,"color":"#ff2020","align":"left","baseline":"middle"},"encoding":{"x":{"datum":2866,"type":"quantitative"},"y":{"datum":0.785,"type":"quantitative"}}},
{"mark":{"type":"text","text":"High expression (n=101)","fontSize":13.5,"color":"#111111","align":"left","baseline":"middle","dx":15.8},"encoding":{"x":{"datum":2866,"type":"quantitative"},"y":{"datum":0.785,"type":"quantitative"}}},
{"mark":{"type":"text","text":"++Low/Medium−expression (n=305)","fontSize":13.5,"color":"#3a6bc8","align":"left","baseline":"middle"},"encoding":{"x":{"datum":2866,"type":"quantitative"},"y":{"datum":0.739,"type":"quantitative"}}},
{"mark":{"type":"text","text":"Time in days","fontSize":18.5,"align":"right","baseline":"middle"},"encoding":{"x":{"datum":5115,"type":"quantitative"},"y":{"datum":0.004,"type":"quantitative"}}},
{"mark":{"type":"tick","orient":"horizontal","size":8,"thickness":1.5,"color":"#ff2020"},"encoding":{"x":{"datum":3580,"type":"quantitative"},"y":{"datum":0.027,"type":"quantitative"}}},
{"mark":{"type":"tick","orient":"horizontal","size":8,"thickness":1.5,"color":"#2222ff"},"encoding":{"x":{"datum":3580,"type":"quantitative"},"y":{"datum":0.004,"type":"quantitative"}}}
]},
{"width":612,"height":418,"data":{"values":[{}]},"layer":[
{"data":{"name":"c"},"transform":[{"filter":"datum.p==='F'"}],"mark":{"type":"line","interpolate":"step-after","strokeWidth":1.8},"encoding":{"x":{"field":"t","type":"quantitative","scale":{"domain":[-267,5358],"nice":false,"zero":false},"axis":{"values":[0,1000,2000,3000,4000,5000],"format":"d","title":null,"labelOffset":{"condition":[{"test":"datum.value==0","value":1},{"test":"datum.value==5000","value":-3}],"value":10}}},"y":{"field":"s","type":"quantitative","scale":{"domain":[-0.044,1.044],"nice":false,"zero":false},"axis":{"values":[0,0.25,0.5,0.75,1],"labelExpr":"datum.value==0.25||datum.value==0.75?'':format(datum.value,'.1f')","title":"Survival probability","labelOffset":{"condition":[{"test":"datum.value==1","value":6},{"test":"datum.value==0.5","value":-4.5}],"value":6}}},"color":{"field":"g","type":"nominal","scale":{"domain":["H","L"],"range":["#ff1f1f","#2222ff"]},"legend":null}}},
{"data":{"name":"k"},"transform":[{"filter":"datum.p==='F'"}],"mark":{"type":"point","shape":"M-1,0L1,0M0,-1L0,1","filled":false,"size":30,"strokeWidth":1.3,"opacity":1},"encoding":{"x":{"field":"t","type":"quantitative"},"y":{"field":"s","type":"quantitative"},"color":{"field":"g","type":"nominal","legend":null}}},
{"mark":{"type":"rule","color":"#8a8a8a","strokeWidth":2},"encoding":{"x":{"datum":-423,"type":"quantitative"},"x2":{"datum":5202},"y":{"datum":1.079,"type":"quantitative"}}},
{"mark":{"type":"text","text":"F","font":"Liberation Serif","fontSize":32,"align":"left","baseline":"alphabetic"},"encoding":{"x":{"datum":1035,"type":"quantitative"},"y":{"datum":0.978,"type":"quantitative"}}},
{"mark":{"type":"text","text":"COL11A1(p = 0.022).","font":"Liberation Serif","fontSize":24,"align":"left","baseline":"alphabetic"},"encoding":{"x":{"datum":1456,"type":"quantitative"},"y":{"datum":0.978,"type":"quantitative"}}},
{"mark":{"type":"text","text":"++","fontSize":13.5,"color":"#ff2020","align":"left","baseline":"middle"},"encoding":{"x":{"datum":2934,"type":"quantitative"},"y":{"datum":0.791,"type":"quantitative"}}},
{"mark":{"type":"text","text":"High expression (n=101)","fontSize":13.5,"color":"#111111","align":"left","baseline":"middle","dx":15.8},"encoding":{"x":{"datum":2934,"type":"quantitative"},"y":{"datum":0.791,"type":"quantitative"}}},
{"mark":{"type":"text","text":"++Low/Medium−expression (n=305)","fontSize":13.5,"color":"#3a6bc8","align":"left","baseline":"middle"},"encoding":{"x":{"datum":2934,"type":"quantitative"},"y":{"datum":0.739,"type":"quantitative"}}},
{"mark":{"type":"text","text":"Time in days","fontSize":18.5,"align":"right","baseline":"middle"},"encoding":{"x":{"datum":5115,"type":"quantitative"},"y":{"datum":0.004,"type":"quantitative"}}},
{"mark":{"type":"tick","orient":"horizontal","size":8,"thickness":1.5,"color":"#ff2020"},"encoding":{"x":{"datum":3580,"type":"quantitative"},"y":{"datum":0.027,"type":"quantitative"}}},
{"mark":{"type":"tick","orient":"horizontal","size":8,"thickness":1.5,"color":"#2222ff"},"encoding":{"x":{"datum":3580,"type":"quantitative"},"y":{"datum":0.004,"type":"quantitative"}}}
]}
],"spacing":9},
{"hconcat":[
{"width":612,"height":418,"data":{"values":[{}]},"layer":[
{"data":{"name":"c"},"transform":[{"filter":"datum.p==='G'"}],"mark":{"type":"line","interpolate":"step-after","strokeWidth":1.8},"encoding":{"x":{"field":"t","type":"quantitative","scale":{"domain":[-267,5358],"nice":false,"zero":false},"axis":{"values":[0,1000,2000,3000,4000,5000],"format":"d","title":null,"labelOffset":{"condition":[{"test":"datum.value==0","value":1},{"test":"datum.value==5000","value":-3}],"value":10}}},"y":{"field":"s","type":"quantitative","scale":{"domain":[-0.044,1.044],"nice":false,"zero":false},"axis":{"values":[0,0.25,0.5,0.75,1],"labelExpr":"datum.value==0.25||datum.value==0.75?'':format(datum.value,'.1f')","title":"Survival probability","labelOffset":{"condition":[{"test":"datum.value==1","value":6},{"test":"datum.value==0.5","value":-4.5}],"value":6}}},"color":{"field":"g","type":"nominal","scale":{"domain":["H","L"],"range":["#ff1f1f","#2222ff"]},"legend":null}}},
{"data":{"name":"k"},"transform":[{"filter":"datum.p==='G'"}],"mark":{"type":"point","shape":"M-1,0L1,0M0,-1L0,1","filled":false,"size":30,"strokeWidth":1.3,"opacity":1},"encoding":{"x":{"field":"t","type":"quantitative"},"y":{"field":"s","type":"quantitative"},"color":{"field":"g","type":"nominal","legend":null}}},
{"mark":{"type":"rule","color":"#8a8a8a","strokeWidth":2},"encoding":{"x":{"datum":-506,"type":"quantitative"},"x2":{"datum":5238},"y":{"datum":1.079,"type":"quantitative"}}},
{"mark":{"type":"text","text":"G","font":"Liberation Serif","fontSize":32,"align":"left","baseline":"alphabetic"},"encoding":{"x":{"datum":1430,"type":"quantitative"},"y":{"datum":0.987,"type":"quantitative"}}},
{"mark":{"type":"text","text":"MMP2(p = 0.045).","font":"Liberation Serif","fontSize":24,"align":"left","baseline":"alphabetic"},"encoding":{"x":{"datum":1899,"type":"quantitative"},"y":{"datum":0.987,"type":"quantitative"}}},
{"mark":{"type":"text","text":"++","fontSize":13.5,"color":"#ff2020","align":"left","baseline":"middle"},"encoding":{"x":{"datum":2974,"type":"quantitative"},"y":{"datum":0.814,"type":"quantitative"}}},
{"mark":{"type":"text","text":"High expression (n=101)","fontSize":13.5,"color":"#111111","align":"left","baseline":"middle","dx":15.8},"encoding":{"x":{"datum":2974,"type":"quantitative"},"y":{"datum":0.814,"type":"quantitative"}}},
{"mark":{"type":"text","text":"++Low/Medium−expression (n=305)","fontSize":13.5,"color":"#3a6bc8","align":"left","baseline":"middle"},"encoding":{"x":{"datum":2974,"type":"quantitative"},"y":{"datum":0.768,"type":"quantitative"}}},
{"mark":{"type":"text","text":"Time in days","fontSize":18.5,"align":"right","baseline":"middle"},"encoding":{"x":{"datum":5115,"type":"quantitative"},"y":{"datum":0.004,"type":"quantitative"}}},
{"mark":{"type":"tick","orient":"horizontal","size":8,"thickness":1.5,"color":"#ff2020"},"encoding":{"x":{"datum":3580,"type":"quantitative"},"y":{"datum":0.027,"type":"quantitative"}}},
{"mark":{"type":"tick","orient":"horizontal","size":8,"thickness":1.5,"color":"#2222ff"},"encoding":{"x":{"datum":3580,"type":"quantitative"},"y":{"datum":0.004,"type":"quantitative"}}}
]},
{"width":612,"height":418,"data":{"values":[{}]},"layer":[
{"data":{"name":"c"},"transform":[{"filter":"datum.p==='H'"}],"mark":{"type":"line","interpolate":"step-after","strokeWidth":1.8},"encoding":{"x":{"field":"t","type":"quantitative","scale":{"domain":[-267,5358],"nice":false,"zero":false},"axis":{"values":[0,1000,2000,3000,4000,5000],"format":"d","title":null,"labelOffset":{"condition":[{"test":"datum.value==0","value":1},{"test":"datum.value==5000","value":-3}],"value":10}}},"y":{"field":"s","type":"quantitative","scale":{"domain":[-0.044,1.044],"nice":false,"zero":false},"axis":{"values":[0,0.25,0.5,0.75,1],"labelExpr":"datum.value==0.25||datum.value==0.75?'':format(datum.value,'.1f')","title":"Survival probability","labelOffset":{"condition":[{"test":"datum.value==1","value":6},{"test":"datum.value==0.5","value":-4.5}],"value":6}}},"color":{"field":"g","type":"nominal","scale":{"domain":["H","L"],"range":["#ff1f1f","#2222ff"]},"legend":null}}},
{"data":{"name":"k"},"transform":[{"filter":"datum.p==='H'"}],"mark":{"type":"point","shape":"M-1,0L1,0M0,-1L0,1","filled":false,"size":30,"strokeWidth":1.3,"opacity":1},"encoding":{"x":{"field":"t","type":"quantitative"},"y":{"field":"s","type":"quantitative"},"color":{"field":"g","type":"nominal","legend":null}}},
{"mark":{"type":"rule","color":"#8a8a8a","strokeWidth":2},"encoding":{"x":{"datum":-506,"type":"quantitative"},"x2":{"datum":5349},"y":{"datum":1.079,"type":"quantitative"}}},
{"mark":{"type":"text","text":"H","font":"Liberation Serif","fontSize":32,"align":"left","baseline":"alphabetic"},"encoding":{"x":{"datum":1504,"type":"quantitative"},"y":{"datum":0.989,"type":"quantitative"}}},
{"mark":{"type":"text","text":"PXDN(p = 0.014).","font":"Liberation Serif","fontSize":24,"align":"left","baseline":"alphabetic"},"encoding":{"x":{"datum":1919,"type":"quantitative"},"y":{"datum":0.989,"type":"quantitative"}}},
{"mark":{"type":"text","text":"++","fontSize":13.5,"color":"#ff2020","align":"left","baseline":"middle"},"encoding":{"x":{"datum":3043,"type":"quantitative"},"y":{"datum":0.754,"type":"quantitative"}}},
{"mark":{"type":"text","text":"High expression (n=101)","fontSize":13.5,"color":"#111111","align":"left","baseline":"middle","dx":15.8},"encoding":{"x":{"datum":3043,"type":"quantitative"},"y":{"datum":0.754,"type":"quantitative"}}},
{"mark":{"type":"text","text":"++Low/Medium−expression (n=305)","fontSize":13.5,"color":"#3a6bc8","align":"left","baseline":"middle"},"encoding":{"x":{"datum":3043,"type":"quantitative"},"y":{"datum":0.709,"type":"quantitative"}}},
{"mark":{"type":"text","text":"Time in days","fontSize":18.5,"align":"right","baseline":"middle"},"encoding":{"x":{"datum":5115,"type":"quantitative"},"y":{"datum":0.004,"type":"quantitative"}}},
{"mark":{"type":"tick","orient":"horizontal","size":8,"thickness":1.5,"color":"#ff2020"},"encoding":{"x":{"datum":3580,"type":"quantitative"},"y":{"datum":0.027,"type":"quantitative"}}},
{"mark":{"type":"tick","orient":"horizontal","size":8,"thickness":1.5,"color":"#2222ff"},"encoding":{"x":{"datum":3580,"type":"quantitative"},"y":{"datum":0.004,"type":"quantitative"}}}
]},
{"width":612,"height":418,"data":{"values":[{}]},"layer":[
{"data":{"name":"c"},"transform":[{"filter":"datum.p==='I'"}],"mark":{"type":"line","interpolate":"step-after","strokeWidth":1.8},"encoding":{"x":{"field":"t","type":"quantitative","scale":{"domain":[-267,5358],"nice":false,"zero":false},"axis":{"values":[0,1000,2000,3000,4000,5000],"format":"d","title":null,"labelOffset":{"condition":[{"test":"datum.value==0","value":1},{"test":"datum.value==5000","value":-3}],"value":10}}},"y":{"field":"s","type":"quantitative","scale":{"domain":[-0.044,1.044],"nice":false,"zero":false},"axis":{"values":[0,0.25,0.5,0.75,1],"labelExpr":"datum.value==0.25||datum.value==0.75?'':format(datum.value,'.1f')","title":"Survival probability","labelOffset":{"condition":[{"test":"datum.value==1","value":6},{"test":"datum.value==0.5","value":-4.5}],"value":6}}},"color":{"field":"g","type":"nominal","scale":{"domain":["H","L"],"range":["#ff1f1f","#2222ff"]},"legend":null}}},
{"data":{"name":"k"},"transform":[{"filter":"datum.p==='I'"}],"mark":{"type":"point","shape":"M-1,0L1,0M0,-1L0,1","filled":false,"size":30,"strokeWidth":1.3,"opacity":1},"encoding":{"x":{"field":"t","type":"quantitative"},"y":{"field":"s","type":"quantitative"},"color":{"field":"g","type":"nominal","legend":null}}},
{"mark":{"type":"rule","color":"#8a8a8a","strokeWidth":2},"encoding":{"x":{"datum":-506,"type":"quantitative"},"x2":{"datum":5147},"y":{"datum":1.079,"type":"quantitative"}}},
{"mark":{"type":"text","text":"I","font":"Liberation Serif","fontSize":32,"align":"left","baseline":"alphabetic"},"encoding":{"x":{"datum":1636,"type":"quantitative"},"y":{"datum":0.989,"type":"quantitative"}}},
{"mark":{"type":"text","text":"THY1(p = 0.02).","font":"Liberation Serif","fontSize":24,"align":"left","baseline":"alphabetic"},"encoding":{"x":{"datum":1951,"type":"quantitative"},"y":{"datum":0.989,"type":"quantitative"}}},
{"mark":{"type":"text","text":"++","fontSize":13.5,"color":"#ff2020","align":"left","baseline":"middle"},"encoding":{"x":{"datum":3106,"type":"quantitative"},"y":{"datum":0.744,"type":"quantitative"}}},
{"mark":{"type":"text","text":"High expression (n=101)","fontSize":13.5,"color":"#111111","align":"left","baseline":"middle","dx":15.8},"encoding":{"x":{"datum":3106,"type":"quantitative"},"y":{"datum":0.744,"type":"quantitative"}}},
{"mark":{"type":"text","text":"++Low/Medium−expression (n=305)","fontSize":13.5,"color":"#3a6bc8","align":"left","baseline":"middle"},"encoding":{"x":{"datum":3106,"type":"quantitative"},"y":{"datum":0.698,"type":"quantitative"}}},
{"mark":{"type":"text","text":"Time in days","fontSize":18.5,"align":"right","baseline":"middle"},"encoding":{"x":{"datum":5115,"type":"quantitative"},"y":{"datum":0.004,"type":"quantitative"}}},
{"mark":{"type":"tick","orient":"horizontal","size":8,"thickness":1.5,"color":"#ff2020"},"encoding":{"x":{"datum":3580,"type":"quantitative"},"y":{"datum":0.027,"type":"quantitative"}}},
{"mark":{"type":"tick","orient":"horizontal","size":8,"thickness":1.5,"color":"#2222ff"},"encoding":{"x":{"datum":3580,"type":"quantitative"},"y":{"datum":0.004,"type":"quantitative"}}}
]}
],"spacing":9}
]},
{"hconcat":[
{"width":612,"height":418,"data":{"values":[{}]},"layer":[
{"data":{"name":"c"},"transform":[{"filter":"datum.p==='J'"}],"mark":{"type":"line","interpolate":"step-after","strokeWidth":1.8},"encoding":{"x":{"field":"t","type":"quantitative","scale":{"domain":[-267,5358],"nice":false,"zero":false},"axis":{"values":[0,1000,2000,3000,4000,5000],"format":"d","title":null,"labelOffset":{"condition":[{"test":"datum.value==0","value":1},{"test":"datum.value==5000","value":-3}],"value":10}}},"y":{"field":"s","type":"quantitative","scale":{"domain":[-0.044,1.044],"nice":false,"zero":false},"axis":{"values":[0,0.25,0.5,0.75,1],"labelExpr":"datum.value==0.25||datum.value==0.75?'':format(datum.value,'.1f')","title":"Survival probability","labelOffset":{"condition":[{"test":"datum.value==1","value":6},{"test":"datum.value==0.5","value":-4.5}],"value":6}}},"color":{"field":"g","type":"nominal","scale":{"domain":["H","L"],"range":["#ff1f1f","#2222ff"]},"legend":null}}},
{"data":{"name":"k"},"transform":[{"filter":"datum.p==='J'"}],"mark":{"type":"point","shape":"M-1,0L1,0M0,-1L0,1","filled":false,"size":30,"strokeWidth":1.3,"opacity":1},"encoding":{"x":{"field":"t","type":"quantitative"},"y":{"field":"s","type":"quantitative"},"color":{"field":"g","type":"nominal","legend":null}}},
{"mark":{"type":"rule","color":"#8a8a8a","strokeWidth":2},"encoding":{"x":{"datum":-506,"type":"quantitative"},"x2":{"datum":5321},"y":{"datum":1.079,"type":"quantitative"}}},
{"mark":{"type":"text","text":"J","font":"Liberation Serif","fontSize":32,"align":"left","baseline":"alphabetic"},"encoding":{"x":{"datum":1121,"type":"quantitative"},"y":{"datum":0.984,"type":"quantitative"}}},
{"mark":{"type":"text","text":"COL5A1(p = 0.0023).","font":"Liberation Serif","fontSize":24,"align":"left","baseline":"alphabetic"},"encoding":{"x":{"datum":1396,"type":"quantitative"},"y":{"datum":0.984,"type":"quantitative"}}},
{"mark":{"type":"text","text":"++","fontSize":13.5,"color":"#ff2020","align":"left","baseline":"middle"},"encoding":{"x":{"datum":3146,"type":"quantitative"},"y":{"datum":0.758,"type":"quantitative"}}},
{"mark":{"type":"text","text":"High expression (n=101)","fontSize":13.5,"color":"#111111","align":"left","baseline":"middle","dx":15.8},"encoding":{"x":{"datum":3146,"type":"quantitative"},"y":{"datum":0.758,"type":"quantitative"}}},
{"mark":{"type":"text","text":"++Low/Medium−expression (n=305)","fontSize":13.5,"color":"#3a6bc8","align":"left","baseline":"middle"},"encoding":{"x":{"datum":3146,"type":"quantitative"},"y":{"datum":0.712,"type":"quantitative"}}},
{"mark":{"type":"text","text":"Time in days","fontSize":18.5,"align":"right","baseline":"middle"},"encoding":{"x":{"datum":5115,"type":"quantitative"},"y":{"datum":0.004,"type":"quantitative"}}},
{"mark":{"type":"tick","orient":"horizontal","size":8,"thickness":1.5,"color":"#ff2020"},"encoding":{"x":{"datum":3580,"type":"quantitative"},"y":{"datum":0.027,"type":"quantitative"}}},
{"mark":{"type":"tick","orient":"horizontal","size":8,"thickness":1.5,"color":"#2222ff"},"encoding":{"x":{"datum":3580,"type":"quantitative"},"y":{"datum":0.004,"type":"quantitative"}}}
]},
{"width":612,"height":418,"data":{"values":[{}]},"layer":[
{"data":{"name":"c"},"transform":[{"filter":"datum.p==='K'"}],"mark":{"type":"line","interpolate":"step-after","strokeWidth":1.8},"encoding":{"x":{"field":"t","type":"quantitative","scale":{"domain":[-267,5358],"nice":false,"zero":false},"axis":{"values":[0,1000,2000,3000,4000,5000],"format":"d","title":null,"labelOffset":{"condition":[{"test":"datum.value==0","value":1},{"test":"datum.value==5000","value":-3}],"value":10}}},"y":{"field":"s","type":"quantitative","scale":{"domain":[-0.044,1.044],"nice":false,"zero":false},"axis":{"values":[0,0.25,0.5,0.75,1],"labelExpr":"datum.value==0.25||datum.value==0.75?'':format(datum.value,'.1f')","title":"Survival probability","labelOffset":{"condition":[{"test":"datum.value==1","value":6},{"test":"datum.value==0.5","value":-4.5}],"value":6}}},"color":{"field":"g","type":"nominal","scale":{"domain":["H","L"],"range":["#ff1f1f","#2222ff"]},"legend":null}}},
{"data":{"name":"k"},"transform":[{"filter":"datum.p==='K'"}],"mark":{"type":"point","shape":"M-1,0L1,0M0,-1L0,1","filled":false,"size":30,"strokeWidth":1.3,"opacity":1},"encoding":{"x":{"field":"t","type":"quantitative"},"y":{"field":"s","type":"quantitative"},"color":{"field":"g","type":"nominal","legend":null}}},
{"mark":{"type":"rule","color":"#8a8a8a","strokeWidth":2},"encoding":{"x":{"datum":-506,"type":"quantitative"},"x2":{"datum":5101},"y":{"datum":1.079,"type":"quantitative"}}},
{"mark":{"type":"text","text":"K","font":"Liberation Serif","fontSize":32,"align":"left","baseline":"alphabetic"},"encoding":{"x":{"datum":1074,"type":"quantitative"},"y":{"datum":0.985,"type":"quantitative"}}},
{"mark":{"type":"text","text":"COL8A1(p = 0.00062).","font":"Liberation Serif","fontSize":24,"align":"left","baseline":"alphabetic"},"encoding":{"x":{"datum":1415,"type":"quantitative"},"y":{"datum":0.985,"type":"quantitative"}}},
{"mark":{"type":"text","text":"++","fontSize":13.5,"color":"#ff2020","align":"left","baseline":"middle"},"encoding":{"x":{"datum":3225,"type":"quantitative"},"y":{"datum":0.685,"type":"quantitative"}}},
{"mark":{"type":"text","text":"High expression (n=101)","fontSize":13.5,"color":"#111111","align":"left","baseline":"middle","dx":15.8},"encoding":{"x":{"datum":3225,"type":"quantitative"},"y":{"datum":0.685,"type":"quantitative"}}},
{"mark":{"type":"text","text":"++Low/Medium−expression (n=305)","fontSize":13.5,"color":"#3a6bc8","align":"left","baseline":"middle"},"encoding":{"x":{"datum":3225,"type":"quantitative"},"y":{"datum":0.641,"type":"quantitative"}}},
{"mark":{"type":"text","text":"Time in days","fontSize":18.5,"align":"right","baseline":"middle"},"encoding":{"x":{"datum":5115,"type":"quantitative"},"y":{"datum":0.004,"type":"quantitative"}}},
{"mark":{"type":"tick","orient":"horizontal","size":8,"thickness":1.5,"color":"#ff2020"},"encoding":{"x":{"datum":3580,"type":"quantitative"},"y":{"datum":0.027,"type":"quantitative"}}},
{"mark":{"type":"tick","orient":"horizontal","size":8,"thickness":1.5,"color":"#2222ff"},"encoding":{"x":{"datum":3580,"type":"quantitative"},"y":{"datum":0.004,"type":"quantitative"}}}
]},
{"width":612,"height":418,"data":{"values":[{}]},"layer":[
{"data":{"name":"c"},"transform":[{"filter":"datum.p==='L'"}],"mark":{"type":"line","interpolate":"step-after","strokeWidth":1.8},"encoding":{"x":{"field":"t","type":"quantitative","scale":{"domain":[-267,5358],"nice":false,"zero":false},"axis":{"values":[0,1000,2000,3000,4000,5000],"format":"d","title":null,"labelOffset":{"condition":[{"test":"datum.value==0","value":1},{"test":"datum.value==5000","value":-3}],"value":10}}},"y":{"field":"s","type":"quantitative","scale":{"domain":[-0.044,1.044],"nice":false,"zero":false},"axis":{"values":[0,0.25,0.5,0.75,1],"labelExpr":"datum.value==0.25||datum.value==0.75?'':format(datum.value,'.1f')","title":"Survival probability","labelOffset":{"condition":[{"test":"datum.value==1","value":6},{"test":"datum.value==0.5","value":-4.5}],"value":6}}},"color":{"field":"g","type":"nominal","scale":{"domain":["H","L"],"range":["#ff1f1f","#2222ff"]},"legend":null}}},
{"data":{"name":"k"},"transform":[{"filter":"datum.p==='L'"}],"mark":{"type":"point","shape":"M-1,0L1,0M0,-1L0,1","filled":false,"size":30,"strokeWidth":1.3,"opacity":1},"encoding":{"x":{"field":"t","type":"quantitative"},"y":{"field":"s","type":"quantitative"},"color":{"field":"g","type":"nominal","legend":null}}},
{"mark":{"type":"rule","color":"#8a8a8a","strokeWidth":2},"encoding":{"x":{"datum":-506,"type":"quantitative"},"x2":{"datum":5358},"y":{"datum":1.079,"type":"quantitative"}}},
{"mark":{"type":"text","text":"L","font":"Liberation Serif","fontSize":32,"align":"left","baseline":"alphabetic"},"encoding":{"x":{"datum":1044,"type":"quantitative"},"y":{"datum":0.984,"type":"quantitative"}}},
{"mark":{"type":"text","text":"TGFB1I1(p = 0.0054).","font":"Liberation Serif","fontSize":24,"align":"left","baseline":"alphabetic"},"encoding":{"x":{"datum":1273,"type":"quantitative"},"y":{"datum":0.984,"type":"quantitative"}}},
{"mark":{"type":"text","text":"++","fontSize":13.5,"color":"#ff2020","align":"left","baseline":"middle"},"encoding":{"x":{"datum":3280,"type":"quantitative"},"y":{"datum":0.683,"type":"quantitative"}}},
{"mark":{"type":"text","text":"High expression (n=101)","fontSize":13.5,"color":"#111111","align":"left","baseline":"middle","dx":15.8},"encoding":{"x":{"datum":3280,"type":"quantitative"},"y":{"datum":0.683,"type":"quantitative"}}},
{"mark":{"type":"text","text":"++Low/Medium−expression (n=305)","fontSize":13.5,"color":"#3a6bc8","align":"left","baseline":"middle"},"encoding":{"x":{"datum":3280,"type":"quantitative"},"y":{"datum":0.637,"type":"quantitative"}}},
{"mark":{"type":"text","text":"Time in days","fontSize":18.5,"align":"right","baseline":"middle"},"encoding":{"x":{"datum":5115,"type":"quantitative"},"y":{"datum":0.004,"type":"quantitative"}}},
{"mark":{"type":"tick","orient":"horizontal","size":8,"thickness":1.5,"color":"#ff2020"},"encoding":{"x":{"datum":3580,"type":"quantitative"},"y":{"datum":0.027,"type":"quantitative"}}},
{"mark":{"type":"tick","orient":"horizontal","size":8,"thickness":1.5,"color":"#2222ff"},"encoding":{"x":{"datum":3580,"type":"quantitative"},"y":{"datum":0.004,"type":"quantitative"}}}
]}
],"spacing":9}
]}
],
"config":{
"font":"Liberation Sans",
"view":{"stroke":null},
"axis":{"grid":false,"domainColor":"#5a5a5a","domainWidth":1.5,"tickColor":"#5a5a5a","tickWidth":1,"labelColor":"#000000","titleColor":"#000000","titleFontWeight":"normal","labelFlush":false,"labelOverlap":false},
"axisX":{"labelFontSize":17,"tickSize":3,"labelPadding":3},
"axisY":{"labelFontSize":18,"tickSize":4,"labelPadding":0,"labelAlign":"left","labelBaseline":"middle","titleFontSize":18.5,"titleAngle":90,"titleX":-17,"titleY":169,"titleAlign":"center","titleBaseline":"middle"}
}
}
